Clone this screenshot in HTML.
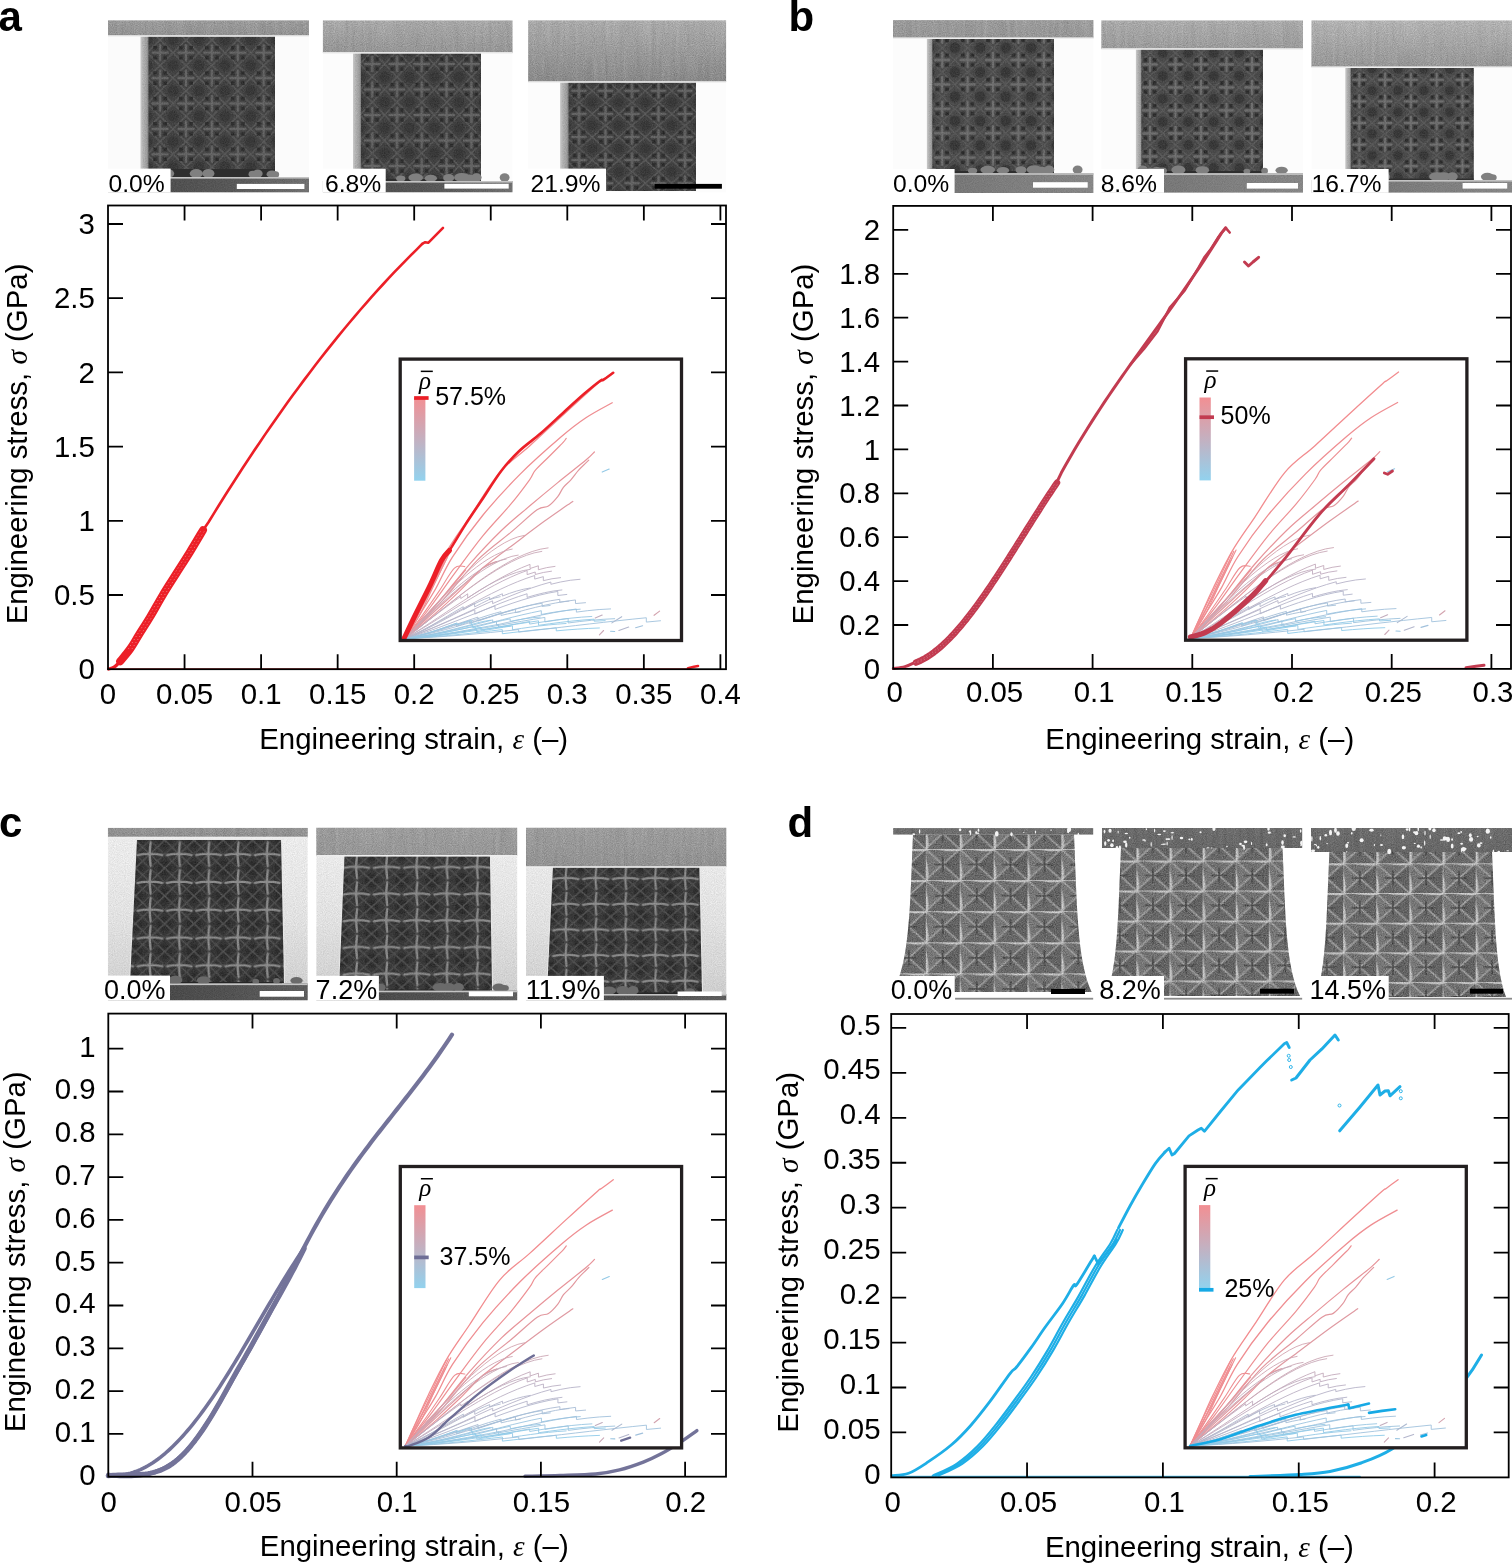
<!DOCTYPE html>
<html><head><meta charset="utf-8"><title>Figure</title>
<style>html,body{margin:0;padding:0;background:#fff;}svg{display:block;}</style>
</head><body>
<svg width="1512" height="1563" viewBox="0 0 1512 1563">
<defs>
<filter id="nz" x="0" y="0" width="100%" height="100%" color-interpolation-filters="sRGB">
 <feTurbulence type="fractalNoise" baseFrequency="0.9" numOctaves="2" seed="7" result="t"/>
 <feColorMatrix in="t" type="matrix" values="0.33 0.33 0.33 0 0  0.33 0.33 0.33 0 0  0.33 0.33 0.33 0 0  0 0 0 0 1" result="g0"/>
 <feComponentTransfer in="g0" result="g"><feFuncR type="linear" slope="2.6" intercept="-0.8"/><feFuncG type="linear" slope="2.6" intercept="-0.8"/><feFuncB type="linear" slope="2.6" intercept="-0.8"/></feComponentTransfer>
 <feComposite in="g" in2="SourceGraphic" operator="in"/>
</filter>
<filter id="nzs" x="0" y="0" width="100%" height="100%" color-interpolation-filters="sRGB">
 <feTurbulence type="fractalNoise" baseFrequency="0.25 0.02" numOctaves="3" seed="4" result="t"/>
 <feColorMatrix in="t" type="matrix" values="0.33 0.33 0.33 0 0  0.33 0.33 0.33 0 0  0.33 0.33 0.33 0 0  0 0 0 0 1" result="g"/>
 <feComposite in="g" in2="SourceGraphic" operator="in"/>
</filter>
<filter id="bl06" x="-2%" y="-2%" width="104%" height="104%"><feGaussianBlur stdDeviation="0.55"/></filter>
<filter id="bl1" x="-5%" y="-5%" width="110%" height="110%"><feGaussianBlur stdDeviation="1.1"/></filter>
<filter id="bl2" x="-10%" y="-10%" width="120%" height="120%"><feGaussianBlur stdDeviation="2"/></filter>
<linearGradient id="gsubA" x1="0" y1="0" x2="1" y2="0"><stop offset="0" stop-color="#454545"/><stop offset="0.6" stop-color="#555555"/><stop offset="1" stop-color="#707070"/></linearGradient>
<linearGradient id="gsubB" x1="0" y1="0" x2="1" y2="0"><stop offset="0" stop-color="#707070"/><stop offset="1" stop-color="#888888"/></linearGradient>
<linearGradient id="gsubC" x1="0" y1="0" x2="1" y2="0"><stop offset="0" stop-color="#3c3c3c"/><stop offset="1" stop-color="#5c5c5c"/></linearGradient>
<linearGradient id="gside" x1="0" y1="0" x2="1" y2="0"><stop offset="0" stop-color="#c8c8c8"/><stop offset="0.7" stop-color="#a0a0a0"/><stop offset="1" stop-color="#6a6a6a"/></linearGradient>
<linearGradient id="gpl_a1" x1="0" y1="0" x2="0" y2="1"><stop offset="0" stop-color="#a6a6a6"/><stop offset="1" stop-color="#9a9a9a"/></linearGradient><linearGradient id="gpl_a2" x1="0" y1="0" x2="0" y2="1"><stop offset="0" stop-color="#b8b8b8"/><stop offset="1" stop-color="#9e9e9e"/></linearGradient><linearGradient id="gpl_a3" x1="0" y1="0" x2="0" y2="1"><stop offset="0" stop-color="#bcbcbc"/><stop offset="1" stop-color="#8e8e8e"/></linearGradient><linearGradient id="gpl_b1" x1="0" y1="0" x2="0" y2="1"><stop offset="0" stop-color="#a8a8a8"/><stop offset="1" stop-color="#a0a0a0"/></linearGradient><linearGradient id="gpl_b2" x1="0" y1="0" x2="0" y2="1"><stop offset="0" stop-color="#bcbcbc"/><stop offset="1" stop-color="#a6a6a6"/></linearGradient><linearGradient id="gpl_b3" x1="0" y1="0" x2="0" y2="1"><stop offset="0" stop-color="#c6c6c6"/><stop offset="1" stop-color="#a0a0a0"/></linearGradient><linearGradient id="gpl_c1" x1="0" y1="0" x2="0" y2="1"><stop offset="0" stop-color="#9e9e9e"/><stop offset="1" stop-color="#969696"/></linearGradient><linearGradient id="gpl_c2" x1="0" y1="0" x2="0" y2="1"><stop offset="0" stop-color="#aaaaaa"/><stop offset="1" stop-color="#a0a0a0"/></linearGradient><linearGradient id="gpl_c3" x1="0" y1="0" x2="0" y2="1"><stop offset="0" stop-color="#a8a8a8"/><stop offset="1" stop-color="#9a9a9a"/></linearGradient><linearGradient id="gpl_d1" x1="0" y1="0" x2="0" y2="1"><stop offset="0" stop-color="#6c6c6c"/><stop offset="1" stop-color="#666666"/></linearGradient><linearGradient id="gpl_d2" x1="0" y1="0" x2="0" y2="1"><stop offset="0" stop-color="#686868"/><stop offset="1" stop-color="#606060"/></linearGradient><linearGradient id="gpl_d3" x1="0" y1="0" x2="0" y2="1"><stop offset="0" stop-color="#686868"/><stop offset="1" stop-color="#606060"/></linearGradient>
<linearGradient id="gbgc" x1="0" y1="0" x2="0" y2="1"><stop offset="0" stop-color="#fafafa"/><stop offset="0.5" stop-color="#eeeeee"/><stop offset="1" stop-color="#d6d6d6"/></linearGradient>
<linearGradient id="gplv" x1="0" y1="0" x2="0" y2="1"><stop offset="0" stop-color="#fff" stop-opacity="0.10"/><stop offset="1" stop-color="#000" stop-opacity="0.10"/></linearGradient>
<clipPath id="clip_a1"><rect x="108" y="20.2" width="201" height="172.4"/></clipPath><pattern id="pat_a1" patternUnits="userSpaceOnUse" x="147.15" y="40" width="25.9" height="25.4"><rect width="25.9" height="25.4" fill="#3d3d3d"/><circle cx="0" cy="0" r="5.59" fill="#333333"/><circle cx="25.9" cy="0" r="5.59" fill="#333333"/><circle cx="0" cy="25.4" r="5.59" fill="#333333"/><circle cx="25.9" cy="25.4" r="5.59" fill="#333333"/><path d="M12.95 0L25.9 12.7L12.95 25.4L0 12.7Z" stroke="#565656" stroke-width="1.5" fill="none"/><rect x="4.31" y="11.5" width="17.27" height="2.4" rx="1" fill="#626262"/><rect x="11.75" y="4.06" width="2.4" height="17.27" rx="1" fill="#626262"/><rect x="6.07" y="5.82" width="3.6" height="3.6" fill="#262626"/><rect x="6.07" y="15.98" width="3.6" height="3.6" fill="#262626"/><rect x="16.23" y="5.82" width="3.6" height="3.6" fill="#262626"/><rect x="16.23" y="15.98" width="3.6" height="3.6" fill="#262626"/></pattern><clipPath id="clip_a2"><rect x="322.7" y="20.3" width="190" height="172.2"/></clipPath><pattern id="pat_a2" patternUnits="userSpaceOnUse" x="359.8" y="51.25" width="24.8" height="25.5"><rect width="24.8" height="25.5" fill="#3b3b3b"/><circle cx="0" cy="0" r="5.46" fill="#333333"/><circle cx="24.8" cy="0" r="5.46" fill="#333333"/><circle cx="0" cy="25.5" r="5.46" fill="#333333"/><circle cx="24.8" cy="25.5" r="5.46" fill="#333333"/><path d="M12.4 0L24.8 12.75L12.4 25.5L0 12.75Z" stroke="#565656" stroke-width="1.5" fill="none"/><rect x="3.97" y="11.55" width="16.86" height="2.4" rx="1" fill="#626262"/><rect x="11.2" y="4.32" width="2.4" height="16.86" rx="1" fill="#626262"/><rect x="5.64" y="5.99" width="3.6" height="3.6" fill="#262626"/><rect x="5.64" y="15.91" width="3.6" height="3.6" fill="#262626"/><rect x="15.56" y="5.99" width="3.6" height="3.6" fill="#262626"/><rect x="15.56" y="15.91" width="3.6" height="3.6" fill="#262626"/></pattern><clipPath id="clip_a3"><rect x="528.1" y="20.2" width="198.2" height="172.4"/></clipPath><pattern id="pat_a3" patternUnits="userSpaceOnUse" x="565.75" y="79.25" width="26.5" height="23.1"><rect width="26.5" height="23.1" fill="#3a3a3a"/><circle cx="0" cy="0" r="5.08" fill="#333333"/><circle cx="26.5" cy="0" r="5.08" fill="#333333"/><circle cx="0" cy="23.1" r="5.08" fill="#333333"/><circle cx="26.5" cy="23.1" r="5.08" fill="#333333"/><path d="M13.25 0L26.5 11.55L13.25 23.1L0 11.55Z" stroke="#565656" stroke-width="1.5" fill="none"/><rect x="5.4" y="10.35" width="15.71" height="2.4" rx="1" fill="#626262"/><rect x="12.05" y="3.7" width="2.4" height="15.71" rx="1" fill="#626262"/><rect x="6.83" y="5.13" width="3.6" height="3.6" fill="#262626"/><rect x="6.83" y="14.37" width="3.6" height="3.6" fill="#262626"/><rect x="16.07" y="5.13" width="3.6" height="3.6" fill="#262626"/><rect x="16.07" y="14.37" width="3.6" height="3.6" fill="#262626"/></pattern><clipPath id="clip_b1"><rect x="893" y="20.1" width="200.6" height="172.9"/></clipPath><pattern id="pat_b1" patternUnits="userSpaceOnUse" x="929.5" y="47.8" width="25.4" height="24.4"><rect width="25.4" height="24.4" fill="#454545"/><circle cx="0" cy="0" r="5.37" fill="#333333"/><circle cx="25.4" cy="0" r="5.37" fill="#333333"/><circle cx="0" cy="24.4" r="5.37" fill="#333333"/><circle cx="25.4" cy="24.4" r="5.37" fill="#333333"/><path d="M12.7 0L25.4 12.2L12.7 24.4L0 12.2Z" stroke="#565656" stroke-width="1.5" fill="none"/><rect x="4.4" y="11" width="16.59" height="2.4" rx="1" fill="#6c6c6c"/><rect x="11.5" y="3.9" width="2.4" height="16.59" rx="1" fill="#6c6c6c"/><rect x="6.02" y="5.52" width="3.6" height="3.6" fill="#262626"/><rect x="6.02" y="15.28" width="3.6" height="3.6" fill="#262626"/><rect x="15.78" y="5.52" width="3.6" height="3.6" fill="#262626"/><rect x="15.78" y="15.28" width="3.6" height="3.6" fill="#262626"/></pattern><clipPath id="clip_b2"><rect x="1101.2" y="20.3" width="201.8" height="172.5"/></clipPath><pattern id="pat_b2" patternUnits="userSpaceOnUse" x="1137.25" y="52.9" width="25.5" height="23"><rect width="25.5" height="23" fill="#444444"/><circle cx="0" cy="0" r="5.06" fill="#333333"/><circle cx="25.5" cy="0" r="5.06" fill="#333333"/><circle cx="0" cy="23" r="5.06" fill="#333333"/><circle cx="25.5" cy="23" r="5.06" fill="#333333"/><path d="M12.75 0L25.5 11.5L12.75 23L0 11.5Z" stroke="#565656" stroke-width="1.5" fill="none"/><rect x="4.93" y="10.3" width="15.64" height="2.4" rx="1" fill="#6c6c6c"/><rect x="11.55" y="3.68" width="2.4" height="15.64" rx="1" fill="#6c6c6c"/><rect x="6.35" y="5.1" width="3.6" height="3.6" fill="#262626"/><rect x="6.35" y="14.3" width="3.6" height="3.6" fill="#262626"/><rect x="15.55" y="5.1" width="3.6" height="3.6" fill="#262626"/><rect x="15.55" y="14.3" width="3.6" height="3.6" fill="#262626"/></pattern><clipPath id="clip_b3"><rect x="1311.3" y="20.3" width="200.7" height="172.5"/></clipPath><pattern id="pat_b3" patternUnits="userSpaceOnUse" x="1346.4" y="69" width="25.8" height="21.6"><rect width="25.8" height="21.6" fill="#444444"/><circle cx="0" cy="0" r="4.75" fill="#333333"/><circle cx="25.8" cy="0" r="4.75" fill="#333333"/><circle cx="0" cy="21.6" r="4.75" fill="#333333"/><circle cx="25.8" cy="21.6" r="4.75" fill="#333333"/><path d="M12.9 0L25.8 10.8L12.9 21.6L0 10.8Z" stroke="#565656" stroke-width="1.5" fill="none"/><rect x="5.56" y="9.6" width="14.69" height="2.4" rx="1" fill="#6c6c6c"/><rect x="11.7" y="3.46" width="2.4" height="14.69" rx="1" fill="#6c6c6c"/><rect x="6.78" y="4.68" width="3.6" height="3.6" fill="#262626"/><rect x="6.78" y="13.32" width="3.6" height="3.6" fill="#262626"/><rect x="15.42" y="4.68" width="3.6" height="3.6" fill="#262626"/><rect x="15.42" y="13.32" width="3.6" height="3.6" fill="#262626"/></pattern><clipPath id="clip_c1"><rect x="107.8" y="827.8" width="200" height="172.6"/></clipPath><pattern id="pat_c1" patternUnits="userSpaceOnUse" x="135.35" y="840.3" width="29.3" height="27.8"><rect width="29.3" height="27.8" fill="#2f2f2f"/><circle cx="0" cy="0" r="7.23" fill="#262626"/><circle cx="29.3" cy="0" r="7.23" fill="#262626"/><circle cx="0" cy="27.8" r="7.23" fill="#262626"/><circle cx="29.3" cy="27.8" r="7.23" fill="#262626"/><path d="M0 0L29.3 27.8M29.3 0L0 27.8" stroke="#4d4d4d" stroke-width="1.6"/><path d="M0 13.9L14.65 0L29.3 13.9L14.65 27.8Z" stroke="#474747" stroke-width="1.2" fill="none"/><path d="M2.34 14.7Q14.65 12.3 26.96 14.7M15.25 2.22Q13.45 13.9 15.25 25.58" stroke="#8c8c8c" stroke-width="2.2" stroke-linecap="round" fill="none"/></pattern><clipPath id="clip_c2"><rect x="316.2" y="827.6" width="201.2" height="172.8"/></clipPath><pattern id="pat_c2" patternUnits="userSpaceOnUse" x="341.3" y="853.65" width="30.2" height="26.7"><rect width="30.2" height="26.7" fill="#313131"/><circle cx="0" cy="0" r="6.94" fill="#262626"/><circle cx="30.2" cy="0" r="6.94" fill="#262626"/><circle cx="0" cy="26.7" r="6.94" fill="#262626"/><circle cx="30.2" cy="26.7" r="6.94" fill="#262626"/><path d="M0 0L30.2 26.7M30.2 0L0 26.7" stroke="#4d4d4d" stroke-width="1.6"/><path d="M0 13.35L15.1 0L30.2 13.35L15.1 26.7Z" stroke="#474747" stroke-width="1.2" fill="none"/><path d="M2.42 14.15Q15.1 11.75 27.78 14.15M15.7 2.14Q13.9 13.35 15.7 24.56" stroke="#8c8c8c" stroke-width="2.2" stroke-linecap="round" fill="none"/></pattern><clipPath id="clip_c3"><rect x="525.9" y="827.6" width="200.6" height="172.8"/></clipPath><pattern id="pat_c3" patternUnits="userSpaceOnUse" x="550.88" y="865.38" width="29.85" height="25.65"><rect width="29.85" height="25.65" fill="#313131"/><circle cx="0" cy="0" r="6.67" fill="#262626"/><circle cx="29.85" cy="0" r="6.67" fill="#262626"/><circle cx="0" cy="25.65" r="6.67" fill="#262626"/><circle cx="29.85" cy="25.65" r="6.67" fill="#262626"/><path d="M0 0L29.85 25.65M29.85 0L0 25.65" stroke="#4d4d4d" stroke-width="1.6"/><path d="M0 12.82L14.93 0L29.85 12.82L14.93 25.65Z" stroke="#474747" stroke-width="1.2" fill="none"/><path d="M2.39 13.62Q14.93 11.22 27.46 13.62M15.53 2.05Q13.73 12.82 15.53 23.6" stroke="#8c8c8c" stroke-width="2.2" stroke-linecap="round" fill="none"/></pattern><clipPath id="clip_d1"><rect x="893.1" y="828.1" width="200.3" height="172.3"/></clipPath><pattern id="pat_d1" patternUnits="userSpaceOnUse" x="925.8" y="849" width="33.9" height="31.1"><rect width="33.9" height="31.1" fill="#6c6c6c"/><path d="M0 0L16.95 15.55L0 31.1Z" fill="#767676"/><path d="M0 0L16.95 15.55L33.9 0Z" fill="#6e6e6e"/><path d="M33.9 0L16.95 15.55L33.9 31.1Z" fill="#5c5c5c"/><path d="M0 31.1L16.95 15.55L33.9 31.1Z" fill="#646464"/><path d="M0 0L33.9 31.1M33.9 0L0 31.1" stroke="#a4a4a4" stroke-width="1.7"/><path d="M8.47 15.55H25.42M16.95 7.78V23.33" stroke="#3e3e3e" stroke-width="1.6"/><path d="M-1 0C11.86 -3.2 22.04 3.2 34.9 0M0 -1C-5 9.33 5 21.77 0 32.1" stroke="#d6d6d6" stroke-width="3.0" fill="none"/></pattern><clipPath id="clip_d2"><rect x="1101.9" y="828" width="200.5" height="172.4"/></clipPath><pattern id="pat_d2" patternUnits="userSpaceOnUse" x="1136.4" y="860.5" width="33.1" height="30"><rect width="33.1" height="30" fill="#6a6a6a"/><path d="M0 0L16.55 15L0 30Z" fill="#767676"/><path d="M0 0L16.55 15L33.1 0Z" fill="#6e6e6e"/><path d="M33.1 0L16.55 15L33.1 30Z" fill="#5c5c5c"/><path d="M0 30L16.55 15L33.1 30Z" fill="#646464"/><path d="M0 0L33.1 30M33.1 0L0 30" stroke="#a4a4a4" stroke-width="1.7"/><path d="M8.28 15H24.83M16.55 7.5V22.5" stroke="#3e3e3e" stroke-width="1.6"/><path d="M-1 0C11.58 -3.2 21.52 3.2 34.1 0M0 -1C-5 9 5 21 0 31" stroke="#d6d6d6" stroke-width="3.0" fill="none"/></pattern><clipPath id="clip_d3"><rect x="1311" y="828" width="201" height="172.4"/></clipPath><pattern id="pat_d3" patternUnits="userSpaceOnUse" x="1343.2" y="863.3" width="33.1" height="29.7"><rect width="33.1" height="29.7" fill="#6a6a6a"/><path d="M0 0L16.55 14.85L0 29.7Z" fill="#767676"/><path d="M0 0L16.55 14.85L33.1 0Z" fill="#6e6e6e"/><path d="M33.1 0L16.55 14.85L33.1 29.7Z" fill="#5c5c5c"/><path d="M0 29.7L16.55 14.85L33.1 29.7Z" fill="#646464"/><path d="M0 0L33.1 29.7M33.1 0L0 29.7" stroke="#a4a4a4" stroke-width="1.7"/><path d="M8.28 14.85H24.83M16.55 7.42V22.27" stroke="#3e3e3e" stroke-width="1.6"/><path d="M-1 0C11.58 -3.2 21.52 3.2 34.1 0M0 -1C-5 8.91 5 20.79 0 30.7" stroke="#d6d6d6" stroke-width="3.0" fill="none"/></pattern><linearGradient id="cb_a" x1="0" y1="0" x2="0" y2="1"><stop offset="0" stop-color="#f28f93"/><stop offset="0.5" stop-color="#c4b0c0"/><stop offset="1" stop-color="#92d2ee"/></linearGradient><linearGradient id="cb_b" x1="0" y1="0" x2="0" y2="1"><stop offset="0" stop-color="#f28f93"/><stop offset="0.5" stop-color="#c4b0c0"/><stop offset="1" stop-color="#92d2ee"/></linearGradient><linearGradient id="cb_c" x1="0" y1="0" x2="0" y2="1"><stop offset="0" stop-color="#f28f93"/><stop offset="0.5" stop-color="#c4b0c0"/><stop offset="1" stop-color="#92d2ee"/></linearGradient><linearGradient id="cb_d" x1="0" y1="0" x2="0" y2="1"><stop offset="0" stop-color="#f28f93"/><stop offset="0.5" stop-color="#c4b0c0"/><stop offset="1" stop-color="#92d2ee"/></linearGradient></defs>
<rect width="1512" height="1563" fill="#fff"/>
<text x="-1.5" y="31" font-family="'Liberation Sans', Arial, Helvetica, sans-serif" font-weight="bold" font-size="42">a</text>
<text x="788.5" y="30.6" font-family="'Liberation Sans', Arial, Helvetica, sans-serif" font-weight="bold" font-size="42">b</text>
<text x="-1" y="837" font-family="'Liberation Sans', Arial, Helvetica, sans-serif" font-weight="bold" font-size="42">c</text>
<text x="787.5" y="837" font-family="'Liberation Sans', Arial, Helvetica, sans-serif" font-weight="bold" font-size="42">d</text>
<g clip-path="url(#clip_a1)"><rect x="108" y="20.2" width="201" height="172.4" fill="#fbfbfb"/><rect x="140.5" y="36" width="9" height="134" fill="url(#gside)" filter="url(#bl06)"/><rect x="148.5" y="36" width="126.5" height="134" fill="url(#pat_a1)" filter="url(#bl06)"/><rect x="142" y="36" width="133" height="134" filter="url(#nz)" opacity="0.09"/><rect x="148.5" y="169" width="126.5" height="8" fill="#2e2e2e"/><g fill="#808080" filter="url(#bl06)"><ellipse cx="168.56" cy="173.51" rx="5.62" ry="4.36"/><ellipse cx="272.04" cy="174.13" rx="5.49" ry="3.59"/><ellipse cx="257.62" cy="173.63" rx="5.02" ry="4.22"/><ellipse cx="156.8" cy="174.56" rx="4.83" ry="3.05"/><ellipse cx="275.57" cy="174.4" rx="3.57" ry="3.25"/><ellipse cx="208.37" cy="173.45" rx="6.06" ry="4.44"/><ellipse cx="157.39" cy="173.63" rx="4.77" ry="4.21"/><ellipse cx="196.29" cy="173.49" rx="6.61" ry="4.39"/><ellipse cx="252.93" cy="174.25" rx="4.4" ry="3.44"/></g><rect x="108" y="20.2" width="201" height="15.8" fill="url(#gpl_a1)"/><rect x="108" y="20.2" width="201" height="15.8" filter="url(#nz)" opacity="0.16"/><rect x="108" y="20.2" width="201" height="15.8" filter="url(#nzs)" opacity="0.12"/><rect x="108" y="35.2" width="201" height="1.6" fill="#eeeeee"/><rect x="108" y="177" width="201" height="15.6" fill="url(#gsubA)"/><rect x="108" y="177" width="201" height="15.6" filter="url(#nz)" opacity="0.08"/><rect x="108" y="177" width="201" height="1.6" fill="#c4c4c4"/><rect x="236.8" y="183.9" width="67.6" height="5.1" fill="#fff"/></g><rect x="108" y="168.6" width="62.6" height="24" fill="#fff"/><text x="108.54" y="191.9" font-family="'Liberation Sans', Arial, Helvetica, sans-serif" font-size="24.7">0.0%</text>
<g clip-path="url(#clip_a2)"><rect x="322.7" y="20.3" width="190" height="172.2" fill="#fcfcfc"/><rect x="353" y="52.9" width="9" height="127.1" fill="url(#gside)" filter="url(#bl06)"/><rect x="361" y="52.9" width="120" height="127.1" fill="url(#pat_a2)" filter="url(#bl06)"/><rect x="354.5" y="52.9" width="126.5" height="127.1" filter="url(#nz)" opacity="0.09"/><rect x="361" y="179" width="120" height="2" fill="#2e2e2e"/><g fill="#808080" filter="url(#bl06)"><ellipse cx="448.64" cy="177.88" rx="5.54" ry="3.9"/><ellipse cx="469.21" cy="178.1" rx="6.1" ry="3.62"/><ellipse cx="476.46" cy="177.59" rx="5.15" ry="4.27"/><ellipse cx="415.73" cy="177.66" rx="7.33" ry="4.18"/><ellipse cx="400.74" cy="178.56" rx="4.67" ry="3.05"/><ellipse cx="430.78" cy="178.19" rx="6.23" ry="3.51"/><ellipse cx="504.63" cy="177.6" rx="4.93" ry="4.25"/><ellipse cx="461.77" cy="177.42" rx="7.72" ry="4.48"/><ellipse cx="361.86" cy="178.78" rx="4.74" ry="2.78"/></g><rect x="322.7" y="20.3" width="190" height="32.6" fill="url(#gpl_a2)"/><rect x="322.7" y="20.3" width="190" height="32.6" filter="url(#nz)" opacity="0.16"/><rect x="322.7" y="20.3" width="190" height="32.6" filter="url(#nzs)" opacity="0.12"/><rect x="322.7" y="52.1" width="190" height="1.6" fill="#eeeeee"/><rect x="322.7" y="181" width="190" height="11.5" fill="url(#gsubA)"/><rect x="322.7" y="181" width="190" height="11.5" filter="url(#nz)" opacity="0.08"/><rect x="322.7" y="181" width="190" height="1.6" fill="#c4c4c4"/><rect x="444.4" y="183.8" width="64.3" height="4.8" fill="#fff"/></g><rect x="322.7" y="168.7" width="63" height="23.8" fill="#fff"/><text x="324.96" y="191.9" font-family="'Liberation Sans', Arial, Helvetica, sans-serif" font-size="24.7">6.8%</text>
<g clip-path="url(#clip_a3)"><rect x="528.1" y="20.2" width="198.2" height="172.4" fill="#fcfcfc"/><rect x="560.1" y="82" width="9.5" height="109" fill="url(#gside)" filter="url(#bl06)"/><rect x="568.6" y="82" width="127.4" height="109" fill="url(#pat_a3)" filter="url(#bl06)"/><rect x="561.6" y="82" width="134.4" height="109" filter="url(#nz)" opacity="0.09"/><rect x="528.1" y="20.2" width="198.2" height="61.8" fill="url(#gpl_a3)"/><rect x="528.1" y="20.2" width="198.2" height="61.8" filter="url(#nz)" opacity="0.16"/><rect x="528.1" y="20.2" width="198.2" height="61.8" filter="url(#nzs)" opacity="0.12"/><rect x="528.1" y="81.2" width="198.2" height="1.6" fill="#eeeeee"/><rect x="654.7" y="183.9" width="67.2" height="4.8" fill="#000"/></g><rect x="528.1" y="168.6" width="77.9" height="24" fill="#fff"/><text x="530.47" y="191.9" font-family="'Liberation Sans', Arial, Helvetica, sans-serif" font-size="24.7">21.9%</text>
<g clip-path="url(#clip_b1)"><rect x="893" y="20.1" width="200.6" height="172.9" fill="#fcfcfc"/><rect x="926.9" y="38.2" width="6.5" height="133.8" fill="url(#gside)" filter="url(#bl06)"/><rect x="932.4" y="38.2" width="121.6" height="133.8" fill="url(#pat_b1)" filter="url(#bl06)"/><rect x="928.4" y="38.2" width="125.6" height="133.8" filter="url(#nz)" opacity="0.09"/><rect x="932.4" y="171" width="121.6" height="2.2" fill="#2e2e2e"/><g fill="#808080" filter="url(#bl06)"><ellipse cx="1021.01" cy="170.08" rx="5.54" ry="3.9"/><ellipse cx="1041.81" cy="170.3" rx="6.1" ry="3.62"/><ellipse cx="1049.14" cy="169.79" rx="5.15" ry="4.27"/><ellipse cx="987.73" cy="169.86" rx="7.33" ry="4.18"/><ellipse cx="972.57" cy="170.76" rx="4.67" ry="3.05"/><ellipse cx="1002.95" cy="170.39" rx="6.23" ry="3.51"/><ellipse cx="1077.62" cy="169.8" rx="4.93" ry="4.25"/><ellipse cx="1034.28" cy="169.62" rx="7.72" ry="4.48"/><ellipse cx="933.27" cy="170.98" rx="4.74" ry="2.78"/></g><rect x="893" y="20.1" width="200.6" height="18.1" fill="url(#gpl_b1)"/><rect x="893" y="20.1" width="200.6" height="18.1" filter="url(#nz)" opacity="0.16"/><rect x="893" y="20.1" width="200.6" height="18.1" filter="url(#nzs)" opacity="0.12"/><rect x="893" y="37.4" width="200.6" height="1.6" fill="#eeeeee"/><rect x="893" y="173.2" width="200.6" height="19.8" fill="url(#gsubB)"/><rect x="893" y="173.2" width="200.6" height="19.8" filter="url(#nz)" opacity="0.08"/><rect x="893" y="173.2" width="200.6" height="1.6" fill="#c4c4c4"/><rect x="1033" y="182.2" width="54.7" height="5.5" fill="#fff"/></g><rect x="892.94" y="169" width="61.66" height="24" fill="#fff"/><text x="892.94" y="191.9" font-family="'Liberation Sans', Arial, Helvetica, sans-serif" font-size="24.7">0.0%</text>
<g clip-path="url(#clip_b2)"><rect x="1101.2" y="20.3" width="201.8" height="172.5" fill="#fcfcfc"/><rect x="1135.9" y="49" width="6.5" height="123" fill="url(#gside)" filter="url(#bl06)"/><rect x="1141.4" y="49" width="121.6" height="123" fill="url(#pat_b2)" filter="url(#bl06)"/><rect x="1137.4" y="49" width="125.6" height="123" filter="url(#nz)" opacity="0.09"/><rect x="1141.4" y="171" width="121.6" height="2.3" fill="#2e2e2e"/><g fill="#808080" filter="url(#bl06)"><ellipse cx="1202.37" cy="170.13" rx="6.71" ry="3.96"/><ellipse cx="1246.89" cy="171.24" rx="3.33" ry="2.58"/><ellipse cx="1162.13" cy="170.73" rx="4.81" ry="3.21"/><ellipse cx="1156.8" cy="170.48" rx="5.78" ry="3.53"/><ellipse cx="1178.36" cy="169.83" rx="7.05" ry="4.34"/><ellipse cx="1281.63" cy="170.37" rx="6.15" ry="3.66"/><ellipse cx="1150.62" cy="170.82" rx="4.02" ry="3.1"/><ellipse cx="1264.59" cy="170.88" rx="3.39" ry="3.02"/><ellipse cx="1142.8" cy="169.82" rx="5.27" ry="4.35"/></g><rect x="1101.2" y="20.3" width="201.8" height="28.7" fill="url(#gpl_b2)"/><rect x="1101.2" y="20.3" width="201.8" height="28.7" filter="url(#nz)" opacity="0.16"/><rect x="1101.2" y="20.3" width="201.8" height="28.7" filter="url(#nzs)" opacity="0.12"/><rect x="1101.2" y="48.2" width="201.8" height="1.6" fill="#eeeeee"/><rect x="1101.2" y="173.3" width="201.8" height="19.5" fill="url(#gsubB)"/><rect x="1101.2" y="173.3" width="201.8" height="19.5" filter="url(#nz)" opacity="0.08"/><rect x="1101.2" y="173.3" width="201.8" height="1.6" fill="#c4c4c4"/><rect x="1246.8" y="183" width="51.2" height="5.6" fill="#fff"/></g><rect x="1100.64" y="169" width="63.36" height="23.8" fill="#fff"/><text x="1100.64" y="191.9" font-family="'Liberation Sans', Arial, Helvetica, sans-serif" font-size="24.7">8.6%</text>
<g clip-path="url(#clip_b3)"><rect x="1311.3" y="20.3" width="200.7" height="172.5" fill="#fcfcfc"/><rect x="1345.3" y="67.2" width="6.5" height="112.3" fill="url(#gside)" filter="url(#bl06)"/><rect x="1350.8" y="67.2" width="123" height="112.3" fill="url(#pat_b3)" filter="url(#bl06)"/><rect x="1346.8" y="67.2" width="127" height="112.3" filter="url(#nz)" opacity="0.09"/><rect x="1350.8" y="178.5" width="123" height="1.5" fill="#2e2e2e"/><g fill="#808080" filter="url(#bl06)"><ellipse cx="1492.24" cy="177.42" rx="4.45" ry="3.23"/><ellipse cx="1452.35" cy="176.57" rx="5.39" ry="4.29"/><ellipse cx="1487.36" cy="176.8" rx="6.44" ry="4"/><ellipse cx="1385.02" cy="176.82" rx="4.91" ry="3.98"/><ellipse cx="1363.43" cy="177.32" rx="4.21" ry="3.35"/><ellipse cx="1385.17" cy="177.01" rx="4.6" ry="3.74"/><ellipse cx="1443.79" cy="176.57" rx="6.98" ry="4.29"/><ellipse cx="1443.12" cy="177.75" rx="3.61" ry="2.81"/><ellipse cx="1436.7" cy="176.55" rx="7.65" ry="4.31"/></g><rect x="1311.3" y="20.3" width="200.7" height="46.9" fill="url(#gpl_b3)"/><rect x="1311.3" y="20.3" width="200.7" height="46.9" filter="url(#nz)" opacity="0.16"/><rect x="1311.3" y="20.3" width="200.7" height="46.9" filter="url(#nzs)" opacity="0.12"/><rect x="1311.3" y="66.4" width="200.7" height="1.6" fill="#eeeeee"/><rect x="1311.3" y="180" width="200.7" height="12.8" fill="url(#gsubB)"/><rect x="1311.3" y="180" width="200.7" height="12.8" filter="url(#nz)" opacity="0.08"/><rect x="1311.3" y="180" width="200.7" height="1.6" fill="#c4c4c4"/><rect x="1462.6" y="183" width="44.6" height="5.6" fill="#fff"/></g><rect x="1311.3" y="169" width="77.3" height="23.8" fill="#fff"/><text x="1311.42" y="191.9" font-family="'Liberation Sans', Arial, Helvetica, sans-serif" font-size="24.7">16.7%</text>
<g clip-path="url(#clip_c1)"><rect x="107.8" y="827.8" width="200" height="172.6" fill="url(#gbgc)"/><rect x="107.8" y="827.8" width="200" height="172.6" filter="url(#nz)" opacity="0.10"/><path d="M137 840L281 840L284 983L130 983Z" fill="#d0d0d0" stroke="#e8e8e8" stroke-width="2" filter="url(#bl06)"/><path d="M137 840L281 840L284 983L130 983Z" fill="url(#pat_c1)" filter="url(#bl06)"/><path d="M137 840L281 840L284 983L130 983Z" filter="url(#nz)" opacity="0.09"/><rect x="132" y="982" width="150" height="1.5" fill="#262626"/><g fill="#6a6a6a" filter="url(#bl06)"><ellipse cx="203.54" cy="980.33" rx="6.71" ry="3.96"/><ellipse cx="255.76" cy="981.44" rx="3.33" ry="2.58"/><ellipse cx="156.32" cy="980.93" rx="4.81" ry="3.21"/><ellipse cx="150.07" cy="980.68" rx="5.78" ry="3.53"/><ellipse cx="175.37" cy="980.03" rx="7.05" ry="4.34"/><ellipse cx="296.53" cy="980.57" rx="6.15" ry="3.66"/><ellipse cx="142.82" cy="981.02" rx="4.02" ry="3.1"/><ellipse cx="276.53" cy="981.08" rx="3.39" ry="3.02"/><ellipse cx="133.65" cy="980.02" rx="5.27" ry="4.35"/></g><rect x="107.8" y="827.8" width="200" height="9.7" fill="url(#gpl_c1)"/><rect x="107.8" y="827.8" width="200" height="9.7" filter="url(#nz)" opacity="0.16"/><rect x="107.8" y="827.8" width="200" height="9.7" filter="url(#nzs)" opacity="0.12"/><rect x="107.8" y="836.7" width="200" height="1.6" fill="#eeeeee"/><rect x="107.8" y="983.5" width="200" height="16.9" fill="url(#gsubC)"/><rect x="107.8" y="983.5" width="200" height="16.9" filter="url(#nz)" opacity="0.08"/><rect x="107.8" y="983.5" width="200" height="1.6" fill="#c4c4c4"/><rect x="259.7" y="991" width="44.3" height="5.7" fill="#fff"/></g><rect x="104.05" y="975.6" width="65.95" height="24.8" fill="#fff"/><text x="104.05" y="999.4" font-family="'Liberation Sans', Arial, Helvetica, sans-serif" font-size="27.0">0.0%</text>
<g clip-path="url(#clip_c2)"><rect x="316.2" y="827.6" width="201.2" height="172.8" fill="url(#gbgc)"/><rect x="316.2" y="827.6" width="201.2" height="172.8" filter="url(#nz)" opacity="0.10"/><path d="M344.5 855.8L489.9 855.8L492 990.5L339 990.5Z" fill="#d0d0d0" stroke="#e8e8e8" stroke-width="2" filter="url(#bl06)"/><path d="M344.5 855.8L489.9 855.8L492 990.5L339 990.5Z" fill="url(#pat_c2)" filter="url(#bl06)"/><path d="M344.5 855.8L489.9 855.8L492 990.5L339 990.5Z" filter="url(#nz)" opacity="0.09"/><rect x="341" y="989.5" width="149" height="1.2" fill="#262626"/><g fill="#6a6a6a" filter="url(#bl06)"><ellipse cx="504.42" cy="988.12" rx="4.45" ry="3.23"/><ellipse cx="458.34" cy="987.27" rx="5.39" ry="4.29"/><ellipse cx="498.78" cy="987.5" rx="6.44" ry="4"/><ellipse cx="380.54" cy="987.52" rx="4.91" ry="3.98"/><ellipse cx="355.59" cy="988.02" rx="4.21" ry="3.35"/><ellipse cx="380.71" cy="987.71" rx="4.6" ry="3.74"/><ellipse cx="448.45" cy="987.27" rx="6.98" ry="4.29"/><ellipse cx="447.67" cy="988.45" rx="3.61" ry="2.81"/><ellipse cx="440.25" cy="987.25" rx="7.65" ry="4.31"/></g><rect x="316.2" y="827.6" width="201.2" height="28.2" fill="url(#gpl_c2)"/><rect x="316.2" y="827.6" width="201.2" height="28.2" filter="url(#nz)" opacity="0.16"/><rect x="316.2" y="827.6" width="201.2" height="28.2" filter="url(#nzs)" opacity="0.12"/><rect x="316.2" y="855" width="201.2" height="1.6" fill="#eeeeee"/><rect x="316.2" y="990.7" width="201.2" height="9.7" fill="url(#gsubC)"/><rect x="316.2" y="990.7" width="201.2" height="9.7" filter="url(#nz)" opacity="0.08"/><rect x="316.2" y="990.7" width="201.2" height="1.6" fill="#c4c4c4"/><rect x="468.8" y="991.5" width="44.2" height="4.8" fill="#fff"/></g><rect x="315.62" y="975.8" width="63.28" height="24.6" fill="#fff"/><text x="315.62" y="999.4" font-family="'Liberation Sans', Arial, Helvetica, sans-serif" font-size="27.0">7.2%</text>
<g clip-path="url(#clip_c3)"><rect x="525.9" y="827.6" width="200.6" height="172.8" fill="url(#gbgc)"/><rect x="525.9" y="827.6" width="200.6" height="172.8" filter="url(#nz)" opacity="0.10"/><path d="M553 867L699.3 867L702 993.5L547 993.5Z" fill="#d0d0d0" stroke="#e8e8e8" stroke-width="2" filter="url(#bl06)"/><path d="M553 867L699.3 867L702 993.5L547 993.5Z" fill="url(#pat_c3)" filter="url(#bl06)"/><path d="M553 867L699.3 867L702 993.5L547 993.5Z" filter="url(#nz)" opacity="0.09"/><rect x="549" y="992.5" width="151" height="1.5" fill="#262626"/><g fill="#6a6a6a" filter="url(#bl06)"><ellipse cx="604.71" cy="991.02" rx="5.06" ry="3.72"/><ellipse cx="609.04" cy="990.68" rx="7.06" ry="4.15"/><ellipse cx="578.6" cy="990.76" rx="6.7" ry="4.05"/><ellipse cx="622.85" cy="990.48" rx="6.51" ry="4.4"/><ellipse cx="562.57" cy="991.84" rx="4.76" ry="2.69"/><ellipse cx="630.98" cy="991.28" rx="5.48" ry="3.4"/><ellipse cx="689.88" cy="991.49" rx="5.21" ry="3.14"/><ellipse cx="583.42" cy="991.1" rx="5.01" ry="3.62"/><ellipse cx="633.1" cy="990.46" rx="5.36" ry="4.43"/></g><rect x="525.9" y="827.6" width="200.6" height="39.4" fill="url(#gpl_c3)"/><rect x="525.9" y="827.6" width="200.6" height="39.4" filter="url(#nz)" opacity="0.16"/><rect x="525.9" y="827.6" width="200.6" height="39.4" filter="url(#nzs)" opacity="0.12"/><rect x="525.9" y="866.2" width="200.6" height="1.6" fill="#eeeeee"/><rect x="525.9" y="994" width="200.6" height="6.4" fill="url(#gsubC)"/><rect x="525.9" y="994" width="200.6" height="6.4" filter="url(#nz)" opacity="0.08"/><rect x="525.9" y="994" width="200.6" height="1.6" fill="#c4c4c4"/><rect x="677.6" y="991.5" width="44.1" height="4.5" fill="#fff"/></g><rect x="525.85" y="975.9" width="78.05" height="24.5" fill="#fff"/><text x="525.85" y="999.4" font-family="'Liberation Sans', Arial, Helvetica, sans-serif" font-size="27.0">11.9%</text>
<g clip-path="url(#clip_d1)"><rect x="893.1" y="828.1" width="200.3" height="172.3" fill="#ffffff"/><path d="M913 834.5L1074 834.5C1077 905.38 1077 960.5 1091.6 992L893 992C910 960.5 910 905.38 913 834.5Z" fill="url(#pat_d1)" filter="url(#bl06)"/><path d="M913 834.5L1074 834.5C1077 905.38 1077 960.5 1091.6 992L893 992C910 960.5 910 905.38 913 834.5Z" filter="url(#nz)" opacity="0.22"/><rect x="893.1" y="828.1" width="200.3" height="6.4" fill="url(#gpl_d1)"/><rect x="893.1" y="828.1" width="200.3" height="6.4" filter="url(#nz)" opacity="0.16"/><rect x="893.1" y="828.1" width="200.3" height="6.4" filter="url(#nzs)" opacity="0.12"/><g fill="#f4f4f4"><ellipse cx="1011.49" cy="834.3" rx="1.21" ry="2.13"/><ellipse cx="913.78" cy="834.24" rx="1.3" ry="1.08"/><ellipse cx="1035.52" cy="832.07" rx="0.62" ry="1.52"/><ellipse cx="978.5" cy="830.13" rx="0.79" ry="1.63"/><ellipse cx="1068.15" cy="831.08" rx="1.08" ry="2.28"/><ellipse cx="969.74" cy="831.52" rx="1.02" ry="1.06"/><ellipse cx="978" cy="833.33" rx="1.35" ry="0.74"/><ellipse cx="1023.73" cy="832.46" rx="0.59" ry="0.52"/><ellipse cx="996.75" cy="833.75" rx="1.87" ry="2.79"/><ellipse cx="1078.34" cy="834.23" rx="0.77" ry="1.58"/><ellipse cx="960.09" cy="829.71" rx="1.23" ry="1.55"/><ellipse cx="1051.06" cy="830.1" rx="0.92" ry="0.57"/><ellipse cx="970.51" cy="832.73" rx="0.71" ry="2.43"/><ellipse cx="1069.15" cy="829.51" rx="1.98" ry="2.58"/><ellipse cx="919.6" cy="831.44" rx="0.69" ry="2.26"/><ellipse cx="976.16" cy="832.57" rx="0.91" ry="1.61"/></g><rect x="955.1" y="997.8" width="138.3" height="1.8" fill="#8a8a8a"/><rect x="1051" y="989" width="34" height="5" fill="#000"/></g><rect x="890.75" y="976" width="63.95" height="24.4" fill="#fff"/><text x="890.75" y="999.4" font-family="'Liberation Sans', Arial, Helvetica, sans-serif" font-size="27.0">0.0%</text>
<g clip-path="url(#clip_d2)"><rect x="1101.9" y="828" width="200.5" height="172.4" fill="#ffffff"/><path d="M1121 848L1282.5 848C1285.5 914.6 1285.5 966.4 1300 996L1106 996C1118 966.4 1118 914.6 1121 848Z" fill="url(#pat_d2)" filter="url(#bl06)"/><path d="M1121 848L1282.5 848C1285.5 914.6 1285.5 966.4 1300 996L1106 996C1118 966.4 1118 914.6 1121 848Z" filter="url(#nz)" opacity="0.22"/><rect x="1101.9" y="828" width="200.5" height="20" fill="url(#gpl_d2)"/><rect x="1101.9" y="828" width="200.5" height="20" filter="url(#nz)" opacity="0.16"/><rect x="1101.9" y="828" width="200.5" height="20" filter="url(#nzs)" opacity="0.12"/><g fill="#f4f4f4"><ellipse cx="1151.19" cy="844.43" rx="0.6" ry="2.44"/><ellipse cx="1189.36" cy="839.39" rx="1.04" ry="0.78"/><ellipse cx="1110.04" cy="830.65" rx="1.59" ry="1.98"/><ellipse cx="1129.69" cy="837.8" rx="0.81" ry="0.97"/><ellipse cx="1105.25" cy="843.6" rx="1.15" ry="2.45"/><ellipse cx="1226.95" cy="846.54" rx="0.78" ry="0.78"/><ellipse cx="1294.22" cy="836.88" rx="1.82" ry="0.57"/><ellipse cx="1245.56" cy="841.86" rx="1.81" ry="1.31"/><ellipse cx="1104.5" cy="831.59" rx="0.9" ry="1.82"/><ellipse cx="1268.5" cy="829.1" rx="1.23" ry="1.73"/><ellipse cx="1145.07" cy="840.82" rx="1.07" ry="0.56"/><ellipse cx="1146.41" cy="829.28" rx="0.66" ry="1.05"/><ellipse cx="1164.57" cy="843.98" rx="1.86" ry="0.6"/><ellipse cx="1200.54" cy="832.16" rx="1.02" ry="0.98"/><ellipse cx="1126.32" cy="833.44" rx="1.75" ry="0.79"/><ellipse cx="1300.64" cy="830.97" rx="0.81" ry="1.77"/><ellipse cx="1208" cy="847.73" rx="1.45" ry="0.55"/><ellipse cx="1162.96" cy="844.16" rx="2.16" ry="0.5"/><ellipse cx="1240.48" cy="843.92" rx="1.33" ry="1.27"/><ellipse cx="1172.07" cy="837.52" rx="0.6" ry="2.57"/><ellipse cx="1143.85" cy="840.06" rx="1.79" ry="0.75"/><ellipse cx="1211.77" cy="847.9" rx="0.53" ry="0.71"/><ellipse cx="1113.1" cy="840.82" rx="0.9" ry="1.33"/><ellipse cx="1242.9" cy="845.75" rx="1.54" ry="0.92"/><ellipse cx="1159.24" cy="834.47" rx="1.95" ry="0.8"/><ellipse cx="1119.93" cy="847.75" rx="1.15" ry="2.26"/><ellipse cx="1108.54" cy="840.33" rx="1.31" ry="1.41"/><ellipse cx="1126.23" cy="844.88" rx="1.16" ry="2.58"/><ellipse cx="1124.94" cy="841.72" rx="1.75" ry="1.21"/><ellipse cx="1116.96" cy="847.13" rx="1.2" ry="1.24"/><ellipse cx="1266.69" cy="844.81" rx="0.97" ry="1.55"/><ellipse cx="1118.15" cy="832.08" rx="0.53" ry="1.31"/><ellipse cx="1251.56" cy="843.49" rx="0.55" ry="1.68"/><ellipse cx="1154.6" cy="830.57" rx="0.64" ry="1.84"/><ellipse cx="1284.74" cy="835.74" rx="1.27" ry="1.49"/><ellipse cx="1111.88" cy="845.26" rx="1.75" ry="2.08"/><ellipse cx="1269.33" cy="832.63" rx="1.64" ry="1.09"/><ellipse cx="1213.97" cy="828.99" rx="1.54" ry="1.91"/><ellipse cx="1191.78" cy="839.29" rx="0.9" ry="1.57"/><ellipse cx="1282.5" cy="842.6" rx="1.3" ry="2.38"/><ellipse cx="1244.04" cy="847.43" rx="0.95" ry="2.48"/><ellipse cx="1166.6" cy="839.05" rx="1.05" ry="0.89"/><ellipse cx="1167.14" cy="843.57" rx="0.59" ry="2.14"/><ellipse cx="1168.63" cy="839.03" rx="1.86" ry="0.86"/><ellipse cx="1301.7" cy="843.1" rx="1.62" ry="2.41"/><ellipse cx="1282.85" cy="847.08" rx="2.01" ry="1.47"/><ellipse cx="1164.37" cy="831.13" rx="1.42" ry="0.79"/><ellipse cx="1301.06" cy="845.61" rx="0.91" ry="0.66"/><ellipse cx="1181.48" cy="837.99" rx="1.74" ry="1.33"/><ellipse cx="1172.33" cy="832.75" rx="1.8" ry="0.63"/></g><rect x="1163.9" y="997.8" width="138.5" height="1.8" fill="#8a8a8a"/><rect x="1260" y="988.7" width="34" height="5" fill="#000"/></g><rect x="1099.34" y="976" width="64.66" height="24.4" fill="#fff"/><text x="1099.34" y="999.4" font-family="'Liberation Sans', Arial, Helvetica, sans-serif" font-size="27.0">8.2%</text>
<g clip-path="url(#clip_d3)"><rect x="1311" y="828" width="201" height="172.4" fill="#ffffff"/><path d="M1329.4 852L1492 852C1495 917.25 1495 968 1506 997L1315.6 997C1326.4 968 1326.4 917.25 1329.4 852Z" fill="url(#pat_d3)" filter="url(#bl06)"/><path d="M1329.4 852L1492 852C1495 917.25 1495 968 1506 997L1315.6 997C1326.4 968 1326.4 917.25 1329.4 852Z" filter="url(#nz)" opacity="0.22"/><rect x="1311" y="828" width="201" height="24" fill="url(#gpl_d3)"/><rect x="1311" y="828" width="201" height="24" filter="url(#nz)" opacity="0.16"/><rect x="1311" y="828" width="201" height="24" filter="url(#nzs)" opacity="0.12"/><g fill="#f4f4f4"><ellipse cx="1416.87" cy="832.21" rx="0.98" ry="0.98"/><ellipse cx="1327.07" cy="843.46" rx="0.68" ry="0.81"/><ellipse cx="1414.74" cy="843.42" rx="0.99" ry="0.62"/><ellipse cx="1424.68" cy="842.89" rx="0.64" ry="2.75"/><ellipse cx="1380.77" cy="835.15" rx="0.61" ry="0.64"/><ellipse cx="1346.76" cy="845.76" rx="1.47" ry="2.28"/><ellipse cx="1389.24" cy="851.49" rx="1.92" ry="2.66"/><ellipse cx="1463.59" cy="849.35" rx="2.12" ry="2.32"/><ellipse cx="1407.04" cy="829.57" rx="1.23" ry="1.25"/><ellipse cx="1477.67" cy="836.44" rx="0.94" ry="0.75"/><ellipse cx="1430.19" cy="836.74" rx="0.59" ry="2.33"/><ellipse cx="1414.46" cy="832.35" rx="1.45" ry="1.13"/><ellipse cx="1315.19" cy="844.61" rx="1.44" ry="0.54"/><ellipse cx="1351.78" cy="833.28" rx="0.78" ry="1.22"/><ellipse cx="1313.07" cy="850.86" rx="2.08" ry="1.36"/><ellipse cx="1316.46" cy="845.59" rx="0.59" ry="0.95"/><ellipse cx="1346.79" cy="851.67" rx="0.54" ry="0.75"/><ellipse cx="1444.39" cy="838.5" rx="1.59" ry="2.24"/><ellipse cx="1429.89" cy="828.2" rx="1.48" ry="2.39"/><ellipse cx="1452.18" cy="846.04" rx="1.39" ry="2.54"/><ellipse cx="1498.74" cy="851.4" rx="1.37" ry="0.69"/><ellipse cx="1507.69" cy="850.76" rx="1.41" ry="0.57"/><ellipse cx="1448.11" cy="839.38" rx="1.96" ry="2.53"/><ellipse cx="1433.97" cy="830.25" rx="1.71" ry="1.99"/><ellipse cx="1458.87" cy="833.19" rx="1.5" ry="0.84"/><ellipse cx="1421.15" cy="847.43" rx="0.79" ry="1.06"/><ellipse cx="1487.81" cy="831.18" rx="2.14" ry="2.64"/><ellipse cx="1425.01" cy="833.02" rx="0.63" ry="2.53"/><ellipse cx="1361.63" cy="840.23" rx="2" ry="2.02"/><ellipse cx="1418.26" cy="828.48" rx="0.77" ry="2.68"/><ellipse cx="1335.49" cy="830.23" rx="1.37" ry="2.53"/><ellipse cx="1409.45" cy="829.15" rx="0.84" ry="2.24"/><ellipse cx="1374.41" cy="844.97" rx="0.7" ry="0.99"/><ellipse cx="1452.1" cy="839.45" rx="0.91" ry="1.27"/><ellipse cx="1416.41" cy="833.23" rx="1.89" ry="1.97"/><ellipse cx="1478.83" cy="845.41" rx="1.88" ry="2.1"/><ellipse cx="1481.02" cy="843.02" rx="1.46" ry="0.88"/><ellipse cx="1471.06" cy="839.41" rx="2.11" ry="2.31"/><ellipse cx="1493.4" cy="851.23" rx="0.69" ry="1.85"/><ellipse cx="1445.87" cy="838.45" rx="2.15" ry="1.74"/><ellipse cx="1348.05" cy="842.74" rx="1.14" ry="0.68"/><ellipse cx="1318.25" cy="847.26" rx="1.15" ry="1.61"/><ellipse cx="1403.83" cy="847.71" rx="2.12" ry="1.67"/><ellipse cx="1470.3" cy="835.23" rx="1.48" ry="2.05"/><ellipse cx="1320.33" cy="838.36" rx="0.77" ry="2.25"/><ellipse cx="1441.85" cy="839.98" rx="2.05" ry="0.77"/><ellipse cx="1353.75" cy="828.44" rx="2.14" ry="2.58"/><ellipse cx="1381.5" cy="845.02" rx="1.47" ry="1.09"/><ellipse cx="1461.45" cy="850.02" rx="0.58" ry="2.23"/><ellipse cx="1402.93" cy="836.75" rx="1.26" ry="2.62"/><ellipse cx="1461.6" cy="843.79" rx="1.39" ry="1.05"/><ellipse cx="1311.84" cy="838.76" rx="0.7" ry="2.7"/><ellipse cx="1465.37" cy="848.76" rx="1.18" ry="1.04"/><ellipse cx="1418.47" cy="846.15" rx="1.56" ry="1.58"/><ellipse cx="1330.53" cy="832.51" rx="1.54" ry="2.79"/><ellipse cx="1490.71" cy="837.54" rx="0.75" ry="1.24"/><ellipse cx="1325.81" cy="835.31" rx="1.33" ry="1.19"/><ellipse cx="1461.15" cy="831.94" rx="0.89" ry="0.99"/><ellipse cx="1337.98" cy="833.48" rx="1.81" ry="2.28"/><ellipse cx="1371.52" cy="830.31" rx="2.18" ry="1.45"/></g><rect x="1373" y="997.8" width="139" height="1.8" fill="#8a8a8a"/><rect x="1470" y="988.7" width="33" height="5" fill="#000"/></g><rect x="1309.45" y="976" width="79.25" height="24.4" fill="#fff"/><text x="1309.45" y="999.4" font-family="'Liberation Sans', Arial, Helvetica, sans-serif" font-size="27.0">14.5%</text>
<path d="M108 668.6H690" fill="none" stroke="#ec1f27" stroke-width="1.4" stroke-linecap="round" stroke-linejoin="round" opacity="0.6"/><path d="M688 668.2L694 666.7L698 666" fill="none" stroke="#ec1f27" stroke-width="2.6" stroke-linecap="round" stroke-linejoin="round"/><path d="M108.5 669C109.42 668.7 112.05 668.48 114 667.2C115.95 665.92 118.2 663.5 120.2 661.3C122.2 659.1 125.03 655.22 126 654" fill="none" stroke="#ec1f27" stroke-width="3.2" stroke-linecap="round" stroke-linejoin="round"/><path d="M120.2 661.3C121.87 659.23 127.03 653.38 130.2 648.9C133.37 644.42 135.83 639.8 139.2 634.4C142.57 629 146.48 623.03 150.4 616.5C154.32 609.97 158.42 602.3 162.7 595.2C166.98 588.1 171.62 581 176.1 573.9C180.58 566.8 185.12 559.88 189.6 552.6C194.08 545.32 200.77 533.93 203 530.2" fill="none" stroke="#ec1f27" stroke-width="8.0" stroke-linecap="round" stroke-linejoin="round"/><path d="M130.2 648.9C131.7 646.48 135.83 639.8 139.2 634.4C142.57 629 146.48 623.03 150.4 616.5C154.32 609.97 158.42 602.3 162.7 595.2C166.98 588.1 171.62 581 176.1 573.9C180.58 566.8 185.12 559.88 189.6 552.6C194.08 545.32 200.77 533.93 203 530.2" fill="none" stroke="#fff" stroke-width="0.9" stroke-dasharray="0.9 2.6" opacity="0.55" transform="translate(-1.8 0)"/><path d="M130.2 648.9C131.7 646.48 135.83 639.8 139.2 634.4C142.57 629 146.48 623.03 150.4 616.5C154.32 609.97 158.42 602.3 162.7 595.2C166.98 588.1 171.62 581 176.1 573.9C180.58 566.8 185.12 559.88 189.6 552.6C194.08 545.32 200.77 533.93 203 530.2" fill="none" stroke="#fff" stroke-width="0.9" stroke-dasharray="0.9 2.6" opacity="0.55" transform="translate(1.8 0)"/><path d="M203 530.2L208.62 521.98L214.24 512.82L219.86 503.76L225.48 494.8L231.1 485.94L236.72 477.18L242.34 468.53L247.96 459.97L253.58 451.51L259.21 443.15L264.83 434.89L270.45 426.73L276.07 418.67L281.69 410.71L287.31 402.86L292.93 395.1L298.55 387.44L304.17 379.88L309.79 372.42L315.41 365.06L321.03 357.8L326.65 350.63L332.27 343.57L337.89 336.61L343.51 329.75L349.13 322.99L354.75 316.32L360.37 309.76L365.99 303.3L371.62 296.93L377.24 290.67L382.86 284.5L388.48 278.44L394.1 272.47L399.72 266.6L405.34 260.83L410.96 255.16L416.58 249.6L422.2 243.8" fill="none" stroke="#ec1f27" stroke-width="2.6" stroke-linecap="round" stroke-linejoin="round"/><path d="M422.2 243.8L425.2 242.2L428.2 242.8L443 227.9" fill="none" stroke="#ec1f27" stroke-width="2.6" stroke-linecap="round" stroke-linejoin="round"/>
<rect x="400.2" y="359.1" width="281.3" height="281.4" fill="#fff"/><g transform="translate(400.2 359.1)" fill="none" stroke-linecap="round" stroke-linejoin="round"><path d="M5.04 279.4C6.67 275.8 10.99 266.26 14.8 257.8C18.62 249.35 22.63 239.65 27.95 228.69C33.27 217.73 39.85 203.8 46.74 192.06C53.62 180.32 60.51 171.34 69.27 158.25C78.04 145.17 89.31 125.45 99.33 113.55C109.35 101.66 118.11 97.12 129.38 86.88C140.65 76.64 155.68 62.46 166.95 52.13C178.22 41.8 191.36 29.87 197 24.9C202.63 19.92 198.09 24.21 200.75 22.27C203.42 20.33 210.93 14.75 212.96 13.25" stroke="#f28c8f" stroke-width="1.3"/><path d="M5.04 279.4C7.6 275.18 15.37 262.34 20.44 254.05C25.51 245.75 30.14 239.02 35.47 229.63C40.79 220.24 44.54 209.91 52.37 197.7C60.2 185.49 71.15 170.15 82.42 156.38C93.69 142.6 106.84 128.2 119.99 115.05C133.14 101.91 150.35 86.88 161.31 77.49C172.27 68.1 177.28 64.34 185.73 58.71C194.18 53.07 207.64 46.18 212.02 43.68" stroke="#ef8e92" stroke-width="1.3"/><path d="M5.04 279.4C9.17 274.24 21.63 259.21 29.83 248.41C38.03 237.61 45.48 226.5 54.25 214.6C63.01 202.71 73.03 188.62 82.42 177.04C91.81 165.45 102.77 154.5 110.6 145.11C118.42 135.71 125.31 126.32 129.38 120.69C133.45 115.05 131.88 115.05 135.01 111.3C138.15 107.54 144.09 102.22 148.16 98.15C152.23 94.08 156.93 89.38 159.43 86.88C161.94 84.38 162.09 84.38 163.19 83.12C164.28 81.87 165.54 79.99 166.01 79.37" stroke="#ed9094" stroke-width="1.2"/><path d="M5.04 279.4C10.11 273.93 24.76 258.9 35.47 246.53C46.17 234.17 58.32 217.73 69.27 205.21C80.23 192.69 91.19 181.11 101.21 171.4C111.22 161.7 119.99 154.97 129.38 146.98C138.77 139 148.16 131.18 157.55 123.51C166.95 115.84 179.62 106.07 185.73 100.97C191.83 95.86 192.77 94.24 194.18 92.89" stroke="#e7949a" stroke-width="1.2"/><path d="M5.04 279.4C11.05 273.3 29.14 255.77 41.1 242.78C53.06 229.79 65.21 213.04 76.79 201.45C88.37 189.87 100.58 181.73 110.6 173.28C120.61 164.83 130.63 155.12 136.89 150.74C143.15 146.36 144.72 149.18 148.16 146.98C151.61 144.79 155.05 140.72 157.55 137.59C160.06 134.46 161 131.02 163.19 128.2C165.38 125.38 168.2 123.51 170.7 120.69C173.21 117.87 175.71 114.11 178.22 111.3C180.72 108.48 184.01 105.51 185.73 103.78C187.45 102.06 188.08 101.44 188.55 100.97" stroke="#e2989f" stroke-width="1.2"/><path d="M5.04 279.4C11.99 272.99 33.84 252.64 46.74 240.9C59.63 229.16 71.15 218.36 82.42 208.97C93.69 199.58 104.02 192.38 114.35 184.55C124.68 176.72 134.7 169.05 144.41 162.01C154.11 154.97 167.88 145.58 172.58 142.29" stroke="#df9aa2" stroke-width="1.2"/><path d="M5.04 279.4C6.98 275.18 12.24 263.28 16.68 254.05C21.13 244.81 26.86 234.01 31.71 223.99C36.56 213.98 43.45 198.95 45.8 193.94" stroke="#f08d91" stroke-width="1.1"/><path d="M5.04 279.4C7.29 275.18 13.8 263.44 18.56 254.05C23.32 244.66 28.64 233.32 33.59 223.06C38.53 212.79 45.8 197.54 48.24 192.44" stroke="#f08d91" stroke-width="1.1"/><path d="M5.04 279.4C7.6 275.18 15.37 263.59 20.44 254.05C25.51 244.5 30.46 232.57 35.47 222.12C40.47 211.66 47.99 196.45 50.49 191.31" stroke="#f08d91" stroke-width="1.1"/><path d="M5.04 279.4C7.13 275.49 13.02 264.53 17.62 255.93C22.22 247.32 27.73 237.39 32.65 227.75C37.56 218.11 44.7 203.02 47.11 198.07" stroke="#ef8e92" stroke-width="1.1"/><path d="M5.04 279.4C6.82 275.96 11.61 266.73 15.74 258.74C19.88 250.76 25.04 241.06 29.83 231.51C34.62 221.96 42.04 206.46 44.48 201.45" stroke="#ef8e92" stroke-width="1.1"/><path d="M5.04 279.4C7.92 275.49 16.62 263.91 22.32 255.93C28.02 247.94 33.9 239.33 39.22 231.51C44.54 223.68 50.02 212.98 54.25 208.97C58.47 204.96 62.86 207.72 64.58 207.47" stroke="#ee8f93" stroke-width="1.1"/><path d="M5.04 279.4C8.23 275.8 17.56 265.16 24.2 257.8C30.83 250.45 37.97 243.09 44.86 235.26C51.74 227.44 62.07 214.92 65.52 210.85" stroke="#eb9196" stroke-width="1.1"/><path d="M5.04 279.4C10.11 275.18 26.32 262.03 35.47 254.05C44.61 246.06 52.06 239.02 59.88 231.51C67.71 223.99 76.32 213.82 82.42 208.97C88.53 204.12 94.16 203.49 96.51 202.39" stroke="#e99398" stroke-width="1.1"/><path d="M5 279.5L11.62 272.13L18.24 264.72L24.87 257.32L31.49 249.96L38.11 242.67L44.73 235.51L51.36 228.5L57.98 221.7L64.6 215.14L71.22 208.88L77.84 202.95L84.47 197.42L91.09 192.32L97.71 187.73L104.33 183.72L110.96 180.37L117.58 177.81L124.2 176.3" stroke="#d2a4af" stroke-width="0.9"/><path d="M5 279.5L12.94 273.38L20.88 267.14L28.82 260.82L36.76 254.46L44.69 248.12L52.63 241.82L60.57 235.63L68.51 229.57L76.45 223.71L84.39 218.09L92.33 212.75L100.27 207.75L108.21 203.15L116.14 199.01L124.08 195.4L132.02 192.4L139.96 190.12L147.9 188.8" stroke="#cca7b4" stroke-width="0.9"/><path d="M5 279.5L12.59 273.63L20.18 267.66L27.77 261.64L35.36 255.6L42.94 249.57L50.53 243.6L58.12 237.72L65.71 231.98L73.3 226.41L80.89 221.05L88.48 215.96L96.07 211.17L103.66 206.73L111.24 202.7L118.83 199.15L126.42 196.14L134.01 193.78L141.6 192.3" stroke="#c8a9b8" stroke-width="0.9"/><path d="M5 279.5L13.32 274.4L21.64 269.12L29.97 263.72L38.29 258.22L46.61 252.68L54.93 247.14L63.26 241.65L71.58 236.25L79.9 230.99L88.22 225.93L96.54 221.1L104.87 216.57L113.19 212.38L121.51 208.6L129.83 205.3L129.83 209.44L138.16 206.69L138.16 210.64L146.48 208.54L154.8 207.3" stroke="#c4acbc" stroke-width="0.9"/><path d="M5 279.5L13.13 274.81L21.26 269.96L29.38 265.01L37.51 259.97L45.64 254.91L53.77 249.84L61.89 244.82L70.02 239.89L78.15 235.08L86.28 230.43L94.41 226L102.53 221.83L110.66 217.97L118.79 214.46L126.92 211.38L126.92 215.51L135.04 212.91L135.04 215.39L143.17 213.37L151.3 212.11" stroke="#c1adbf" stroke-width="0.9"/><path d="M5 279.5L13.63 275.42L22.27 271.14L30.9 266.68L39.53 262.1L48.17 257.44L56.8 252.74L65.43 248.05L74.07 243.41L82.7 238.87L91.33 234.48L99.97 230.28L108.6 226.31L117.23 222.65L125.87 219.33L134.5 216.42L134.5 219.99L143.13 217.56L143.13 221.55L151.77 219.68L160.4 218.56" stroke="#bbb1c4" stroke-width="0.9"/><path d="M5 279.5L14.71 275.92L24.42 272.08L34.13 268.01L43.84 263.78L53.56 259.42L63.27 254.99L72.98 250.53L82.69 246.1L92.4 241.75L92.4 244.51L102.11 240.28L111.82 236.24L121.53 232.42L131.24 228.9L140.96 225.72L150.67 222.95L150.67 225.18L160.38 222.89L170.09 221.18L179.8 220.19" stroke="#b7b3c8" stroke-width="0.9"/><path d="M5 279.5L13.71 276.36L22.41 273L31.12 269.47L39.82 265.81L48.53 262.05L57.23 258.22L65.94 254.38L74.64 250.55L74.64 254.96L83.35 251.19L92.06 247.52L100.76 243.99L109.47 240.64L118.17 237.51L126.88 234.66L126.88 238.3L135.58 235.77L144.29 233.63L152.99 231.94L161.7 230.85" stroke="#b5b4ca" stroke-width="0.9"/><path d="M5 279.5L13.98 276.84L22.96 273.94L31.93 270.83L40.91 267.57L49.89 264.19L58.87 260.72L67.84 257.21L76.82 253.69L85.8 250.21L94.78 246.8L94.78 250.36L103.76 247.07L112.73 243.94L121.71 241.01L130.69 238.33L139.67 235.95L148.64 233.93L157.62 232.32L157.62 236.4L166.6 235.34" stroke="#b2b6cc" stroke-width="0.9"/><path d="M5 279.5L10.94 272.76L16.89 266.08L22.83 259.47L28.78 252.98L34.72 246.61L40.67 240.41L46.61 234.38L52.56 228.56L58.5 222.98L64.44 217.67L70.39 212.66L76.33 207.99L82.28 203.69L88.22 199.81L94.17 196.41L100.11 193.55L106.06 191.33L112 190" stroke="#cfa5b2" stroke-width="0.9"/><path d="M5 279.5L11.28 273.21L17.56 266.98L23.83 260.82L30.11 254.76L36.39 248.82L42.67 243.03L48.94 237.4L55.22 231.98L61.5 226.77L67.78 221.82L74.06 217.14L80.33 212.78L86.61 208.77L92.89 205.16L99.17 201.98L105.44 199.31L111.72 197.24L118 196" stroke="#cba8b6" stroke-width="0.9"/><path d="M5 279.5L10.61 273.51L16.22 267.58L21.83 261.71L27.44 255.94L33.06 250.29L38.67 244.77L44.28 239.42L49.89 234.25L55.5 229.3L61.11 224.58L66.72 220.13L72.33 215.98L77.94 212.16L83.56 208.72L89.17 205.69L94.78 203.15L100.39 201.18L106 200" stroke="#c6aaba" stroke-width="0.9"/><path d="M5 279.5L11.94 274.11L18.89 268.71L25.83 263.31L32.78 257.94L39.72 252.64L46.67 247.43L53.61 242.33L60.56 237.38L60.56 239.47L67.5 234.7L67.5 238.9L74.44 234.33L81.39 230.01L88.33 225.96L95.28 222.23L102.22 218.86L109.17 215.89L116.11 213.4L123.06 211.46L130 210.29" stroke="#c2adbe" stroke-width="0.9"/><path d="M5 279.5L14.09 277.4L23.19 275.07L32.28 272.53L41.38 269.82L50.47 266.98L59.57 264.04L68.66 261.04L77.76 258.03L77.76 261.97L86.85 258.97L95.94 256.02L105.04 253.15L114.13 250.42L123.23 247.86L132.32 245.51L141.42 243.42L150.51 241.63L159.61 240.21L159.61 243.02L168.7 242.06" stroke="#acbad2" stroke-width="0.9"/><path d="M5 279.5L15.02 277.63L25.03 275.49L35.05 273.1L45.07 270.51L55.08 267.77L65.1 264.9L75.12 261.96L85.13 258.98L95.15 256L105.17 253.07L115.18 250.23L115.18 253.53L125.2 250.82L135.22 248.28L145.23 245.97L155.25 243.93L165.27 242.2L175.28 240.86L175.28 244.46L185.3 243.6" stroke="#a8bdd6" stroke-width="0.9"/><path d="M5 279.5L16.41 278.05L27.82 276.31L39.23 274.34L50.64 272.15L62.06 269.81L73.47 267.34L84.88 264.79L96.29 262.19L96.29 265.85L107.7 263.24L119.11 260.68L130.52 258.19L141.93 255.82L153.34 253.62L164.76 251.62L176.17 249.87L176.17 253.01L187.58 251.56L198.99 250.46L210.4 249.8" stroke="#a2c1db" stroke-width="0.9"/><path d="M5 279.5L16.64 278.47L28.28 277.2L39.92 275.72L51.56 274.07L63.19 272.27L74.83 270.36L86.47 268.37L98.11 266.33L109.75 264.27L121.39 262.23L133.03 260.24L144.67 258.33L144.67 262.82L156.31 261.03L167.94 259.39L167.94 263.88L179.58 262.42L191.22 261.19L202.86 260.22L214.5 259.58" stroke="#9dc3de" stroke-width="0.9"/><path d="M5 279.5L15.37 278.53L25.73 277.33L36.1 275.95L46.47 274.4L56.83 272.72L67.2 270.93L77.57 269.07L87.93 267.16L98.3 265.23L98.3 268.02L108.67 266.1L119.03 264.22L129.4 262.41L129.4 264.98L139.77 263.27L150.13 261.69L160.5 260.27L170.87 259.05L181.23 258.06L191.6 257.36" stroke="#99c6e2" stroke-width="0.9"/><path d="M5 279.5L13.94 278.84L22.88 278L31.82 277L40.76 275.86L49.69 274.62L58.63 273.28L67.57 271.87L76.51 270.41L76.51 272.59L85.45 271.11L94.39 269.62L103.33 268.16L112.27 266.74L112.27 270.65L121.21 269.3L130.14 268.03L139.08 266.88L148.02 265.87L156.96 265.03L165.9 264.39" stroke="#94c8e5" stroke-width="0.9"/><path d="M5 279.5L15.79 278.94L26.58 278.23L37.37 277.38L48.16 276.42L58.94 275.35L69.73 274.21L80.52 273.01L91.31 271.78L102.1 270.52L102.1 274.64L112.89 273.38L123.68 272.15L134.47 270.96L145.26 269.83L156.04 268.79L156.04 271.76L166.83 270.82L177.62 270.01L188.41 269.35L199.2 268.88" stroke="#8fcbe9" stroke-width="0.9"/><path d="M5 279.5L19.18 278.86L33.37 278.05L47.55 277.08L61.73 275.97L75.92 274.74L90.1 273.4L104.28 271.96L118.47 270.45L118.47 272.98L132.65 271.41L146.83 269.8L161.02 268.15L175.2 266.49L189.38 264.84L203.57 263.22L217.75 261.63L231.93 260.1L246.12 258.66L246.12 262.98L260.3 261.65" stroke="#a0c2dd" stroke-width="0.9"/><path d="M5 279.5L11.39 278.18L17.78 276.64L24.17 274.9L30.56 272.99L36.94 270.94L43.33 268.79L49.72 266.55L56.11 264.27L56.11 267.21L62.5 264.92L68.89 262.64L75.28 260.4L81.67 258.25L88.06 256.2L94.44 254.3L100.83 252.59L100.83 256.36L107.22 254.86L113.61 253.62L120 252.71" stroke="#a6bed7" stroke-width="0.9"/><path d="M5 279.5L12.5 278.53L20 277.33L27.5 275.95L35 274.4L42.5 272.72L50 270.93L57.5 269.07L65 267.16L72.5 265.23L72.5 268.65L80 266.73L87.5 264.84L95 263.03L102.5 261.32L110 259.74L110 262.24L117.5 260.82L125 259.6L132.5 258.61L140 257.91" stroke="#96c7e4" stroke-width="0.9"/><path d="M5 279.5L10.83 278.95L16.67 278.26L22.5 277.43L28.33 276.5L34.17 275.47L40 274.36L45.83 273.2L51.67 272L57.5 270.78L63.33 269.55L69.17 268.34L75 267.17L75 269.39L80.83 268.27L80.83 271.1L86.67 270.06L92.5 269.11L98.33 268.27L104.17 267.57L110 267.05" stroke="#8ccdec" stroke-width="0.9"/><path d="M5 279.5L14.72 278.24L24.44 276.68L34.17 274.86L43.89 272.83L53.61 270.62L63.33 268.27L73.06 265.82L82.78 263.32L92.5 260.79L92.5 263.13L102.22 260.62L111.94 258.17L121.67 255.83L131.39 253.63L141.11 251.61L141.11 255.38L150.83 253.59L160.56 252.08L170.28 250.89L180 250.1" stroke="#9bc4e0" stroke-width="0.9"/><path d="M5 279.5L13.06 277.94L21.11 276.1L29.17 274.02L37.22 271.73L45.28 269.28L53.33 266.69L61.39 264.02L69.44 261.29L69.44 264.45L77.5 261.71L85.56 258.99L93.61 256.33L101.67 253.79L109.72 251.38L117.78 249.17L125.83 247.19L133.89 245.49L141.94 244.12L141.94 247.33L150 246.38" stroke="#a4bfd9" stroke-width="0.9"/><path d="M5 279.5L10.28 277.26L15.56 274.79L20.83 272.12L26.11 269.28L31.39 266.31L36.67 263.24L41.94 260.11L47.22 256.94L52.5 253.79L57.78 250.67L63.06 247.64L63.06 250.76L68.33 247.83L73.61 245.07L78.89 242.49L84.17 240.15L89.44 238.1L89.44 240.58L94.72 238.86L100 237.6" stroke="#b0b8ce" stroke-width="0.9"/><path d="M5 279.5L11.94 276.6L18.89 273.46L25.83 270.11L32.78 266.59L39.72 262.94L46.67 259.21L53.61 255.42L60.56 251.63L67.5 247.87L74.44 244.19L74.44 247.79L81.39 244.23L88.33 240.82L95.28 237.62L102.22 234.67L102.22 236.96L109.17 234.32L116.11 232.04L123.06 230.19L130 228.9" stroke="#b4b5cb" stroke-width="0.9"/><path d="M5 279.5L9.72 278.64L14.44 277.6L19.17 276.41L23.89 275.08L28.61 273.64L33.33 272.1L38.06 270.5L42.78 268.86L47.5 267.18L52.22 265.51L56.94 263.86L56.94 265.86L61.67 264.26L66.39 262.72L71.11 261.28L71.11 265.44L75.83 264.12L80.56 262.94L85.28 261.94L90 261.16" stroke="#92cae7" stroke-width="0.9"/><path d="M5 279.5L16.11 278.72L27.22 277.72L38.33 276.53L49.44 275.17L60.56 273.66L71.67 272.05L82.78 270.36L93.89 268.62L105 266.86L116.11 265.1L127.22 263.38L138.33 261.73L138.33 266.22L149.44 264.67L160.56 263.24L171.67 261.98L182.78 260.9L193.89 260.06L193.89 262.11L205 261.54" stroke="#92cae7" stroke-width="0.9"/><path d="M253.9 256.2L259.4 252" stroke="#d3a3ae" stroke-width="1.1"/><path d="M235.4 268.6L242.4 266.6" stroke="#a1c1dc" stroke-width="1.1"/><path d="M218.7 271.4L228.5 268" stroke="#b3b6cc" stroke-width="1.1"/><path d="M199.2 275.7L203.4 271.4" stroke="#cba8b6" stroke-width="1.1"/><path d="M210.4 272.2L214.5 272.4" stroke="#9ac5e1" stroke-width="1.1"/><path d="M211.7 263.8L221.5 257.6" stroke="#adbad1" stroke-width="1.1"/><path d="M195 259L202 256" stroke="#c2adbe" stroke-width="1.1"/><path d="M202 113L209 110" stroke="#93c9e6" stroke-width="1.1"/><path d="M3.7 279.6C5.68 275.47 11.3 263.57 15.6 254.8C19.9 246.03 25.2 235.93 29.5 227C33.8 218.07 38.1 207.15 41.4 201.2C44.7 195.25 45.33 197.25 49.3 191.3C53.27 185.35 59.9 173.77 65.2 165.5C70.5 157.23 75.13 150.63 81.1 141.7C87.07 132.77 94.72 120.17 101 111.9C107.28 103.63 112.2 98.38 118.8 92.1C125.4 85.82 133 80.82 140.6 74.2C148.2 67.58 157.12 59.02 164.4 52.4C171.68 45.78 178.35 39.62 184.3 34.5C190.25 29.38 196.97 24 200.1 21.7C203.23 19.4 200.95 22.03 203.1 20.7C205.25 19.37 211.35 14.87 213 13.7" stroke="#ec1f27" stroke-width="2.6"/><path d="M3.7 279.6C5.68 275.47 11.3 263.57 15.6 254.8C19.9 246.03 25.2 235.93 29.5 227C33.8 218.07 38.1 207.15 41.4 201.2C44.7 195.25 47.98 192.95 49.3 191.3" stroke="#ec1f27" stroke-width="5.0"/><rect x="13.9" y="38.7" width="11.3" height="82.9" fill="url(#cb_a)" stroke="none"/><rect x="13.9" y="37.05" width="14.5" height="3.7" fill="#ec1f27" stroke="none"/><text x="35" y="46.1" font-family="'Liberation Sans', Arial, Helvetica, sans-serif" font-size="25" fill="#000" stroke="none">57.5%</text><text x="18.9" y="29.5" font-family="'Liberation Serif', 'Times New Roman', serif" font-style="italic" font-size="25" fill="#000" stroke="none">ρ</text><rect x="20.6" y="11.5" width="12" height="1.5" fill="#000" stroke="none"/></g><rect x="400.2" y="359.1" width="281.3" height="281.4" fill="none" stroke="#231f20" stroke-width="3.3"/>
<rect x="108" y="205.5" width="618" height="463.7" fill="none" stroke="#000" stroke-width="1.8"/><path d="M184.55 669.2v-15M184.55 205.5v15M261.1 669.2v-15M261.1 205.5v15M337.65 669.2v-15M337.65 205.5v15M414.2 669.2v-15M414.2 205.5v15M490.75 669.2v-15M490.75 205.5v15M567.3 669.2v-15M567.3 205.5v15M643.85 669.2v-15M643.85 205.5v15M720.4 669.2v-15M720.4 205.5v15M108 595h15M726 595h-15M108 520.8h15M726 520.8h-15M108 446.6h15M726 446.6h-15M108 372.4h15M726 372.4h-15M108 298.2h15M726 298.2h-15M108 224h15M726 224h-15" stroke="#000" stroke-width="1.8" fill="none"/><g font-family="'Liberation Sans', Arial, Helvetica, sans-serif" font-size="29.4" fill="#000"><text x="108" y="704" text-anchor="middle">0</text><text x="184.55" y="704" text-anchor="middle">0.05</text><text x="261.1" y="704" text-anchor="middle">0.1</text><text x="337.65" y="704" text-anchor="middle">0.15</text><text x="414.2" y="704" text-anchor="middle">0.2</text><text x="490.75" y="704" text-anchor="middle">0.25</text><text x="567.3" y="704" text-anchor="middle">0.3</text><text x="643.85" y="704" text-anchor="middle">0.35</text><text x="720.4" y="704" text-anchor="middle">0.4</text><text x="94.8" y="679.3" text-anchor="end">0</text><text x="94.8" y="605.1" text-anchor="end">0.5</text><text x="94.8" y="530.9" text-anchor="end">1</text><text x="94.8" y="456.7" text-anchor="end">1.5</text><text x="94.8" y="382.5" text-anchor="end">2</text><text x="94.8" y="308.3" text-anchor="end">2.5</text><text x="94.8" y="234.1" text-anchor="end">3</text></g><text x="259.2" y="748.9" font-family="'Liberation Sans', Arial, Helvetica, sans-serif" font-size="29.4">Engineering strain, <tspan font-family="'Liberation Serif', 'Times New Roman', serif" font-style="italic">ε</tspan> (–)</text><text transform="translate(26.9 443.95) rotate(-90)" text-anchor="middle" font-family="'Liberation Sans', Arial, Helvetica, sans-serif" font-size="29.4">Engineering stress, <tspan font-family="'Liberation Serif', 'Times New Roman', serif" font-style="italic">σ</tspan> (GPa)</text>
<path d="M894 668.3H1470" fill="none" stroke="#c23b50" stroke-width="1.2" stroke-linecap="round" stroke-linejoin="round" opacity="0.5"/><path d="M1466 667.7L1476 666.3L1484 665.3" fill="none" stroke="#c23b50" stroke-width="3.0" stroke-linecap="round" stroke-linejoin="round"/><path d="M893.3 668.6C895.25 668.27 901.2 667.73 905 666.6C908.8 665.47 912.77 663.32 916.1 661.8C919.43 660.28 923.52 658.22 925 657.5" fill="none" stroke="#c23b50" stroke-width="3.0" stroke-linecap="round" stroke-linejoin="round"/><path d="M916.1 662.52L917.88 661.8L919.67 661.01L921.45 660.15L923.23 659.22L925.02 658.22L926.8 657.16L928.58 656.04L930.37 654.85L932.15 653.6L933.94 652.29L935.72 650.91L937.5 649.48L939.29 648L941.07 646.45L942.85 644.85L944.64 643.2L946.42 641.49L948.2 639.73L949.99 637.93L951.77 636.07L953.55 634.16L955.34 632.21L957.12 630.21L958.91 628.17L960.69 626.09L962.47 623.96L964.26 621.79L966.04 619.59L967.82 617.34L969.61 615.06L971.39 612.74L973.17 610.39L974.96 608L976.74 605.58L978.52 603.13L980.31 600.65L982.09 598.15L983.87 595.61L985.66 593.05L987.44 590.46L989.23 587.85L991.01 585.21L992.79 582.56L994.58 579.88L996.36 577.19L998.14 574.48L999.93 571.75L1001.71 569L1003.49 566.24L1005.28 563.47L1007.06 560.68L1008.84 557.89L1010.63 555.08L1012.41 552.27L1014.19 549.45L1015.98 546.62L1017.76 543.79L1019.55 540.95L1021.33 538.12L1023.11 535.28L1024.9 532.44L1026.68 529.6L1028.46 526.77L1030.25 523.94L1032.03 521.11L1033.81 518.29L1035.6 515.48L1037.38 512.67L1039.16 509.88L1040.95 507.09L1042.73 504.32L1044.52 501.56L1046.3 498.82L1048.08 496.09L1049.87 493.38L1051.65 490.68L1053.43 488.01L1055.22 485.35L1057 482.72" fill="none" stroke="#c23b50" stroke-width="6.5" stroke-linecap="round" stroke-linejoin="round"/><path d="M916.1 662.52L917.88 661.8L919.67 661.01L921.45 660.15L923.23 659.22L925.02 658.22L926.8 657.16L928.58 656.04L930.37 654.85L932.15 653.6L933.94 652.29L935.72 650.91L937.5 649.48L939.29 648L941.07 646.45L942.85 644.85L944.64 643.2L946.42 641.49L948.2 639.73L949.99 637.93L951.77 636.07L953.55 634.16L955.34 632.21L957.12 630.21L958.91 628.17L960.69 626.09L962.47 623.96L964.26 621.79L966.04 619.59L967.82 617.34L969.61 615.06L971.39 612.74L973.17 610.39L974.96 608L976.74 605.58L978.52 603.13L980.31 600.65L982.09 598.15L983.87 595.61L985.66 593.05L987.44 590.46L989.23 587.85L991.01 585.21L992.79 582.56L994.58 579.88L996.36 577.19L998.14 574.48L999.93 571.75L1001.71 569L1003.49 566.24L1005.28 563.47L1007.06 560.68L1008.84 557.89L1010.63 555.08L1012.41 552.27L1014.19 549.45L1015.98 546.62L1017.76 543.79L1019.55 540.95L1021.33 538.12L1023.11 535.28L1024.9 532.44L1026.68 529.6L1028.46 526.77L1030.25 523.94L1032.03 521.11L1033.81 518.29L1035.6 515.48L1037.38 512.67L1039.16 509.88L1040.95 507.09L1042.73 504.32L1044.52 501.56L1046.3 498.82L1048.08 496.09L1049.87 493.38L1051.65 490.68L1053.43 488.01L1055.22 485.35L1057 482.72" fill="none" stroke="#fff" stroke-width="0.8" stroke-dasharray="0.8 2.6" opacity="0.5" transform="translate(-1.6 0)"/><path d="M916.1 662.52L917.88 661.8L919.67 661.01L921.45 660.15L923.23 659.22L925.02 658.22L926.8 657.16L928.58 656.04L930.37 654.85L932.15 653.6L933.94 652.29L935.72 650.91L937.5 649.48L939.29 648L941.07 646.45L942.85 644.85L944.64 643.2L946.42 641.49L948.2 639.73L949.99 637.93L951.77 636.07L953.55 634.16L955.34 632.21L957.12 630.21L958.91 628.17L960.69 626.09L962.47 623.96L964.26 621.79L966.04 619.59L967.82 617.34L969.61 615.06L971.39 612.74L973.17 610.39L974.96 608L976.74 605.58L978.52 603.13L980.31 600.65L982.09 598.15L983.87 595.61L985.66 593.05L987.44 590.46L989.23 587.85L991.01 585.21L992.79 582.56L994.58 579.88L996.36 577.19L998.14 574.48L999.93 571.75L1001.71 569L1003.49 566.24L1005.28 563.47L1007.06 560.68L1008.84 557.89L1010.63 555.08L1012.41 552.27L1014.19 549.45L1015.98 546.62L1017.76 543.79L1019.55 540.95L1021.33 538.12L1023.11 535.28L1024.9 532.44L1026.68 529.6L1028.46 526.77L1030.25 523.94L1032.03 521.11L1033.81 518.29L1035.6 515.48L1037.38 512.67L1039.16 509.88L1040.95 507.09L1042.73 504.32L1044.52 501.56L1046.3 498.82L1048.08 496.09L1049.87 493.38L1051.65 490.68L1053.43 488.01L1055.22 485.35L1057 482.72" fill="none" stroke="#fff" stroke-width="0.8" stroke-dasharray="0.8 2.6" opacity="0.5" transform="translate(1.6 0)"/><path d="M1057 481.8L1061.33 472.79L1065.65 465.05L1069.98 457.48L1074.3 450.07L1078.63 442.8L1082.95 435.68L1087.28 428.7L1091.61 421.84L1095.93 415.1L1100.26 408.47L1104.58 401.94L1108.91 395.5L1113.23 389.15L1117.56 382.87L1121.88 376.66L1126.21 370.51L1130.54 364.41L1134.86 358.35L1139.19 352.33L1143.51 346.33L1147.84 340.35L1152.16 334.38L1156.49 328.4L1160.82 322.42L1165.14 316.42L1169.47 310.4L1173.79 304.34L1178.12 298.25L1182.44 292.1L1186.77 285.89L1191.09 279.62L1195.42 273.27L1199.75 266.83L1204.07 260.31L1208.4 253.68L1212.72 246.95L1217.05 240.1L1221.37 233.12L1225.7 227.8" fill="none" stroke="#c23b50" stroke-width="3.0" stroke-linecap="round" stroke-linejoin="round"/><path d="M1130.52 364.54L1144.23 348.8L1157.63 331.26L1169.75 307.64L1184.8 290.47L1198.22 268L1204.14 257.54L1210.98 248.73L1218.12 237.29L1225.3 228.55" fill="none" stroke="#c23b50" stroke-width="2.4" stroke-linecap="round" stroke-linejoin="round"/><path d="M1225.7 227.8L1229.7 232.5" fill="none" stroke="#c23b50" stroke-width="2.6" stroke-linecap="round" stroke-linejoin="round"/><path d="M1244.5 262L1248.5 266L1253 262L1258.6 257.3" fill="none" stroke="#c23b50" stroke-width="3.0" stroke-linecap="round" stroke-linejoin="round"/>
<rect x="1185.6" y="358.8" width="281.3" height="281.4" fill="#fff"/><g transform="translate(1185.6 358.8)" fill="none" stroke-linecap="round" stroke-linejoin="round"><path d="M5.04 279.4C6.67 275.8 10.99 266.26 14.8 257.8C18.62 249.35 22.63 239.65 27.95 228.69C33.27 217.73 39.85 203.8 46.74 192.06C53.62 180.32 60.51 171.34 69.27 158.25C78.04 145.17 89.31 125.45 99.33 113.55C109.35 101.66 118.11 97.12 129.38 86.88C140.65 76.64 155.68 62.46 166.95 52.13C178.22 41.8 191.36 29.87 197 24.9C202.63 19.92 198.09 24.21 200.75 22.27C203.42 20.33 210.93 14.75 212.96 13.25" stroke="#f28c8f" stroke-width="1.3"/><path d="M5.04 279.4C7.6 275.18 15.37 262.34 20.44 254.05C25.51 245.75 30.14 239.02 35.47 229.63C40.79 220.24 44.54 209.91 52.37 197.7C60.2 185.49 71.15 170.15 82.42 156.38C93.69 142.6 106.84 128.2 119.99 115.05C133.14 101.91 150.35 86.88 161.31 77.49C172.27 68.1 177.28 64.34 185.73 58.71C194.18 53.07 207.64 46.18 212.02 43.68" stroke="#ef8e92" stroke-width="1.3"/><path d="M5.04 279.4C9.17 274.24 21.63 259.21 29.83 248.41C38.03 237.61 45.48 226.5 54.25 214.6C63.01 202.71 73.03 188.62 82.42 177.04C91.81 165.45 102.77 154.5 110.6 145.11C118.42 135.71 125.31 126.32 129.38 120.69C133.45 115.05 131.88 115.05 135.01 111.3C138.15 107.54 144.09 102.22 148.16 98.15C152.23 94.08 156.93 89.38 159.43 86.88C161.94 84.38 162.09 84.38 163.19 83.12C164.28 81.87 165.54 79.99 166.01 79.37" stroke="#ed9094" stroke-width="1.2"/><path d="M5.04 279.4C10.11 273.93 24.76 258.9 35.47 246.53C46.17 234.17 58.32 217.73 69.27 205.21C80.23 192.69 91.19 181.11 101.21 171.4C111.22 161.7 119.99 154.97 129.38 146.98C138.77 139 148.16 131.18 157.55 123.51C166.95 115.84 179.62 106.07 185.73 100.97C191.83 95.86 192.77 94.24 194.18 92.89" stroke="#e7949a" stroke-width="1.2"/><path d="M5.04 279.4C11.05 273.3 29.14 255.77 41.1 242.78C53.06 229.79 65.21 213.04 76.79 201.45C88.37 189.87 100.58 181.73 110.6 173.28C120.61 164.83 130.63 155.12 136.89 150.74C143.15 146.36 144.72 149.18 148.16 146.98C151.61 144.79 155.05 140.72 157.55 137.59C160.06 134.46 161 131.02 163.19 128.2C165.38 125.38 168.2 123.51 170.7 120.69C173.21 117.87 175.71 114.11 178.22 111.3C180.72 108.48 184.01 105.51 185.73 103.78C187.45 102.06 188.08 101.44 188.55 100.97" stroke="#e2989f" stroke-width="1.2"/><path d="M5.04 279.4C11.99 272.99 33.84 252.64 46.74 240.9C59.63 229.16 71.15 218.36 82.42 208.97C93.69 199.58 104.02 192.38 114.35 184.55C124.68 176.72 134.7 169.05 144.41 162.01C154.11 154.97 167.88 145.58 172.58 142.29" stroke="#df9aa2" stroke-width="1.2"/><path d="M5.04 279.4C6.98 275.18 12.24 263.28 16.68 254.05C21.13 244.81 26.86 234.01 31.71 223.99C36.56 213.98 43.45 198.95 45.8 193.94" stroke="#f08d91" stroke-width="1.1"/><path d="M5.04 279.4C7.29 275.18 13.8 263.44 18.56 254.05C23.32 244.66 28.64 233.32 33.59 223.06C38.53 212.79 45.8 197.54 48.24 192.44" stroke="#f08d91" stroke-width="1.1"/><path d="M5.04 279.4C7.6 275.18 15.37 263.59 20.44 254.05C25.51 244.5 30.46 232.57 35.47 222.12C40.47 211.66 47.99 196.45 50.49 191.31" stroke="#f08d91" stroke-width="1.1"/><path d="M5.04 279.4C7.13 275.49 13.02 264.53 17.62 255.93C22.22 247.32 27.73 237.39 32.65 227.75C37.56 218.11 44.7 203.02 47.11 198.07" stroke="#ef8e92" stroke-width="1.1"/><path d="M5.04 279.4C6.82 275.96 11.61 266.73 15.74 258.74C19.88 250.76 25.04 241.06 29.83 231.51C34.62 221.96 42.04 206.46 44.48 201.45" stroke="#ef8e92" stroke-width="1.1"/><path d="M5.04 279.4C7.92 275.49 16.62 263.91 22.32 255.93C28.02 247.94 33.9 239.33 39.22 231.51C44.54 223.68 50.02 212.98 54.25 208.97C58.47 204.96 62.86 207.72 64.58 207.47" stroke="#ee8f93" stroke-width="1.1"/><path d="M5.04 279.4C8.23 275.8 17.56 265.16 24.2 257.8C30.83 250.45 37.97 243.09 44.86 235.26C51.74 227.44 62.07 214.92 65.52 210.85" stroke="#eb9196" stroke-width="1.1"/><path d="M5.04 279.4C10.11 275.18 26.32 262.03 35.47 254.05C44.61 246.06 52.06 239.02 59.88 231.51C67.71 223.99 76.32 213.82 82.42 208.97C88.53 204.12 94.16 203.49 96.51 202.39" stroke="#e99398" stroke-width="1.1"/><path d="M5 279.5L11.62 272.13L18.24 264.72L24.87 257.32L31.49 249.96L38.11 242.67L44.73 235.51L51.36 228.5L57.98 221.7L64.6 215.14L71.22 208.88L77.84 202.95L84.47 197.42L91.09 192.32L97.71 187.73L104.33 183.72L110.96 180.37L117.58 177.81L124.2 176.3" stroke="#d2a4af" stroke-width="0.9"/><path d="M5 279.5L12.94 273.38L20.88 267.14L28.82 260.82L36.76 254.46L44.69 248.12L52.63 241.82L60.57 235.63L68.51 229.57L76.45 223.71L84.39 218.09L92.33 212.75L100.27 207.75L108.21 203.15L116.14 199.01L124.08 195.4L132.02 192.4L139.96 190.12L147.9 188.8" stroke="#cca7b4" stroke-width="0.9"/><path d="M5 279.5L12.59 273.63L20.18 267.66L27.77 261.64L35.36 255.6L42.94 249.57L50.53 243.6L58.12 237.72L65.71 231.98L73.3 226.41L80.89 221.05L88.48 215.96L96.07 211.17L103.66 206.73L111.24 202.7L118.83 199.15L126.42 196.14L134.01 193.78L141.6 192.3" stroke="#c8a9b8" stroke-width="0.9"/><path d="M5 279.5L13.32 274.4L21.64 269.12L29.97 263.72L38.29 258.22L46.61 252.68L54.93 247.14L63.26 241.65L71.58 236.25L79.9 230.99L88.22 225.93L96.54 221.1L104.87 216.57L113.19 212.38L121.51 208.6L129.83 205.3L129.83 209.44L138.16 206.69L138.16 210.64L146.48 208.54L154.8 207.3" stroke="#c4acbc" stroke-width="0.9"/><path d="M5 279.5L13.13 274.81L21.26 269.96L29.38 265.01L37.51 259.97L45.64 254.91L53.77 249.84L61.89 244.82L70.02 239.89L78.15 235.08L86.28 230.43L94.41 226L102.53 221.83L110.66 217.97L118.79 214.46L126.92 211.38L126.92 215.51L135.04 212.91L135.04 215.39L143.17 213.37L151.3 212.11" stroke="#c1adbf" stroke-width="0.9"/><path d="M5 279.5L13.63 275.42L22.27 271.14L30.9 266.68L39.53 262.1L48.17 257.44L56.8 252.74L65.43 248.05L74.07 243.41L82.7 238.87L91.33 234.48L99.97 230.28L108.6 226.31L117.23 222.65L125.87 219.33L134.5 216.42L134.5 219.99L143.13 217.56L143.13 221.55L151.77 219.68L160.4 218.56" stroke="#bbb1c4" stroke-width="0.9"/><path d="M5 279.5L14.71 275.92L24.42 272.08L34.13 268.01L43.84 263.78L53.56 259.42L63.27 254.99L72.98 250.53L82.69 246.1L92.4 241.75L92.4 244.51L102.11 240.28L111.82 236.24L121.53 232.42L131.24 228.9L140.96 225.72L150.67 222.95L150.67 225.18L160.38 222.89L170.09 221.18L179.8 220.19" stroke="#b7b3c8" stroke-width="0.9"/><path d="M5 279.5L13.71 276.36L22.41 273L31.12 269.47L39.82 265.81L48.53 262.05L57.23 258.22L65.94 254.38L74.64 250.55L74.64 254.96L83.35 251.19L92.06 247.52L100.76 243.99L109.47 240.64L118.17 237.51L126.88 234.66L126.88 238.3L135.58 235.77L144.29 233.63L152.99 231.94L161.7 230.85" stroke="#b5b4ca" stroke-width="0.9"/><path d="M5 279.5L13.98 276.84L22.96 273.94L31.93 270.83L40.91 267.57L49.89 264.19L58.87 260.72L67.84 257.21L76.82 253.69L85.8 250.21L94.78 246.8L94.78 250.36L103.76 247.07L112.73 243.94L121.71 241.01L130.69 238.33L139.67 235.95L148.64 233.93L157.62 232.32L157.62 236.4L166.6 235.34" stroke="#b2b6cc" stroke-width="0.9"/><path d="M5 279.5L10.94 272.76L16.89 266.08L22.83 259.47L28.78 252.98L34.72 246.61L40.67 240.41L46.61 234.38L52.56 228.56L58.5 222.98L64.44 217.67L70.39 212.66L76.33 207.99L82.28 203.69L88.22 199.81L94.17 196.41L100.11 193.55L106.06 191.33L112 190" stroke="#cfa5b2" stroke-width="0.9"/><path d="M5 279.5L11.28 273.21L17.56 266.98L23.83 260.82L30.11 254.76L36.39 248.82L42.67 243.03L48.94 237.4L55.22 231.98L61.5 226.77L67.78 221.82L74.06 217.14L80.33 212.78L86.61 208.77L92.89 205.16L99.17 201.98L105.44 199.31L111.72 197.24L118 196" stroke="#cba8b6" stroke-width="0.9"/><path d="M5 279.5L10.61 273.51L16.22 267.58L21.83 261.71L27.44 255.94L33.06 250.29L38.67 244.77L44.28 239.42L49.89 234.25L55.5 229.3L61.11 224.58L66.72 220.13L72.33 215.98L77.94 212.16L83.56 208.72L89.17 205.69L94.78 203.15L100.39 201.18L106 200" stroke="#c6aaba" stroke-width="0.9"/><path d="M5 279.5L11.94 274.11L18.89 268.71L25.83 263.31L32.78 257.94L39.72 252.64L46.67 247.43L53.61 242.33L60.56 237.38L60.56 239.47L67.5 234.7L67.5 238.9L74.44 234.33L81.39 230.01L88.33 225.96L95.28 222.23L102.22 218.86L109.17 215.89L116.11 213.4L123.06 211.46L130 210.29" stroke="#c2adbe" stroke-width="0.9"/><path d="M5 279.5L14.09 277.4L23.19 275.07L32.28 272.53L41.38 269.82L50.47 266.98L59.57 264.04L68.66 261.04L77.76 258.03L77.76 261.97L86.85 258.97L95.94 256.02L105.04 253.15L114.13 250.42L123.23 247.86L132.32 245.51L141.42 243.42L150.51 241.63L159.61 240.21L159.61 243.02L168.7 242.06" stroke="#acbad2" stroke-width="0.9"/><path d="M5 279.5L15.02 277.63L25.03 275.49L35.05 273.1L45.07 270.51L55.08 267.77L65.1 264.9L75.12 261.96L85.13 258.98L95.15 256L105.17 253.07L115.18 250.23L115.18 253.53L125.2 250.82L135.22 248.28L145.23 245.97L155.25 243.93L165.27 242.2L175.28 240.86L175.28 244.46L185.3 243.6" stroke="#a8bdd6" stroke-width="0.9"/><path d="M5 279.5L16.41 278.05L27.82 276.31L39.23 274.34L50.64 272.15L62.06 269.81L73.47 267.34L84.88 264.79L96.29 262.19L96.29 265.85L107.7 263.24L119.11 260.68L130.52 258.19L141.93 255.82L153.34 253.62L164.76 251.62L176.17 249.87L176.17 253.01L187.58 251.56L198.99 250.46L210.4 249.8" stroke="#a2c1db" stroke-width="0.9"/><path d="M5 279.5L16.64 278.47L28.28 277.2L39.92 275.72L51.56 274.07L63.19 272.27L74.83 270.36L86.47 268.37L98.11 266.33L109.75 264.27L121.39 262.23L133.03 260.24L144.67 258.33L144.67 262.82L156.31 261.03L167.94 259.39L167.94 263.88L179.58 262.42L191.22 261.19L202.86 260.22L214.5 259.58" stroke="#9dc3de" stroke-width="0.9"/><path d="M5 279.5L15.37 278.53L25.73 277.33L36.1 275.95L46.47 274.4L56.83 272.72L67.2 270.93L77.57 269.07L87.93 267.16L98.3 265.23L98.3 268.02L108.67 266.1L119.03 264.22L129.4 262.41L129.4 264.98L139.77 263.27L150.13 261.69L160.5 260.27L170.87 259.05L181.23 258.06L191.6 257.36" stroke="#99c6e2" stroke-width="0.9"/><path d="M5 279.5L13.94 278.84L22.88 278L31.82 277L40.76 275.86L49.69 274.62L58.63 273.28L67.57 271.87L76.51 270.41L76.51 272.59L85.45 271.11L94.39 269.62L103.33 268.16L112.27 266.74L112.27 270.65L121.21 269.3L130.14 268.03L139.08 266.88L148.02 265.87L156.96 265.03L165.9 264.39" stroke="#94c8e5" stroke-width="0.9"/><path d="M5 279.5L15.79 278.94L26.58 278.23L37.37 277.38L48.16 276.42L58.94 275.35L69.73 274.21L80.52 273.01L91.31 271.78L102.1 270.52L102.1 274.64L112.89 273.38L123.68 272.15L134.47 270.96L145.26 269.83L156.04 268.79L156.04 271.76L166.83 270.82L177.62 270.01L188.41 269.35L199.2 268.88" stroke="#8fcbe9" stroke-width="0.9"/><path d="M5 279.5L19.18 278.86L33.37 278.05L47.55 277.08L61.73 275.97L75.92 274.74L90.1 273.4L104.28 271.96L118.47 270.45L118.47 272.98L132.65 271.41L146.83 269.8L161.02 268.15L175.2 266.49L189.38 264.84L203.57 263.22L217.75 261.63L231.93 260.1L246.12 258.66L246.12 262.98L260.3 261.65" stroke="#a0c2dd" stroke-width="0.9"/><path d="M5 279.5L11.39 278.18L17.78 276.64L24.17 274.9L30.56 272.99L36.94 270.94L43.33 268.79L49.72 266.55L56.11 264.27L56.11 267.21L62.5 264.92L68.89 262.64L75.28 260.4L81.67 258.25L88.06 256.2L94.44 254.3L100.83 252.59L100.83 256.36L107.22 254.86L113.61 253.62L120 252.71" stroke="#a6bed7" stroke-width="0.9"/><path d="M5 279.5L12.5 278.53L20 277.33L27.5 275.95L35 274.4L42.5 272.72L50 270.93L57.5 269.07L65 267.16L72.5 265.23L72.5 268.65L80 266.73L87.5 264.84L95 263.03L102.5 261.32L110 259.74L110 262.24L117.5 260.82L125 259.6L132.5 258.61L140 257.91" stroke="#96c7e4" stroke-width="0.9"/><path d="M5 279.5L10.83 278.95L16.67 278.26L22.5 277.43L28.33 276.5L34.17 275.47L40 274.36L45.83 273.2L51.67 272L57.5 270.78L63.33 269.55L69.17 268.34L75 267.17L75 269.39L80.83 268.27L80.83 271.1L86.67 270.06L92.5 269.11L98.33 268.27L104.17 267.57L110 267.05" stroke="#8ccdec" stroke-width="0.9"/><path d="M5 279.5L14.72 278.24L24.44 276.68L34.17 274.86L43.89 272.83L53.61 270.62L63.33 268.27L73.06 265.82L82.78 263.32L92.5 260.79L92.5 263.13L102.22 260.62L111.94 258.17L121.67 255.83L131.39 253.63L141.11 251.61L141.11 255.38L150.83 253.59L160.56 252.08L170.28 250.89L180 250.1" stroke="#9bc4e0" stroke-width="0.9"/><path d="M5 279.5L13.06 277.94L21.11 276.1L29.17 274.02L37.22 271.73L45.28 269.28L53.33 266.69L61.39 264.02L69.44 261.29L69.44 264.45L77.5 261.71L85.56 258.99L93.61 256.33L101.67 253.79L109.72 251.38L117.78 249.17L125.83 247.19L133.89 245.49L141.94 244.12L141.94 247.33L150 246.38" stroke="#a4bfd9" stroke-width="0.9"/><path d="M5 279.5L10.28 277.26L15.56 274.79L20.83 272.12L26.11 269.28L31.39 266.31L36.67 263.24L41.94 260.11L47.22 256.94L52.5 253.79L57.78 250.67L63.06 247.64L63.06 250.76L68.33 247.83L73.61 245.07L78.89 242.49L84.17 240.15L89.44 238.1L89.44 240.58L94.72 238.86L100 237.6" stroke="#b0b8ce" stroke-width="0.9"/><path d="M5 279.5L11.94 276.6L18.89 273.46L25.83 270.11L32.78 266.59L39.72 262.94L46.67 259.21L53.61 255.42L60.56 251.63L67.5 247.87L74.44 244.19L74.44 247.79L81.39 244.23L88.33 240.82L95.28 237.62L102.22 234.67L102.22 236.96L109.17 234.32L116.11 232.04L123.06 230.19L130 228.9" stroke="#b4b5cb" stroke-width="0.9"/><path d="M5 279.5L9.72 278.64L14.44 277.6L19.17 276.41L23.89 275.08L28.61 273.64L33.33 272.1L38.06 270.5L42.78 268.86L47.5 267.18L52.22 265.51L56.94 263.86L56.94 265.86L61.67 264.26L66.39 262.72L71.11 261.28L71.11 265.44L75.83 264.12L80.56 262.94L85.28 261.94L90 261.16" stroke="#92cae7" stroke-width="0.9"/><path d="M5 279.5L16.11 278.72L27.22 277.72L38.33 276.53L49.44 275.17L60.56 273.66L71.67 272.05L82.78 270.36L93.89 268.62L105 266.86L116.11 265.1L127.22 263.38L138.33 261.73L138.33 266.22L149.44 264.67L160.56 263.24L171.67 261.98L182.78 260.9L193.89 260.06L193.89 262.11L205 261.54" stroke="#92cae7" stroke-width="0.9"/><path d="M253.9 256.2L259.4 252" stroke="#d3a3ae" stroke-width="1.1"/><path d="M235.4 268.6L242.4 266.6" stroke="#a1c1dc" stroke-width="1.1"/><path d="M218.7 271.4L228.5 268" stroke="#b3b6cc" stroke-width="1.1"/><path d="M199.2 275.7L203.4 271.4" stroke="#cba8b6" stroke-width="1.1"/><path d="M210.4 272.2L214.5 272.4" stroke="#9ac5e1" stroke-width="1.1"/><path d="M211.7 263.8L221.5 257.6" stroke="#adbad1" stroke-width="1.1"/><path d="M195 259L202 256" stroke="#c2adbe" stroke-width="1.1"/><path d="M202 113L209 110" stroke="#93c9e6" stroke-width="1.1"/><path d="M4.9 278.3C7.42 277.5 14.87 275.9 20 273.5C25.13 271.1 27.97 269.95 35.7 263.9C43.43 257.85 56.15 247.45 66.4 237.2C76.65 226.95 85.92 216.07 97.2 202.4C108.48 188.73 123.17 167.85 134.1 155.2C145.03 142.55 153.75 135.72 162.8 126.5C171.85 117.28 184.13 104.33 188.4 99.9" stroke="#c23b50" stroke-width="2.8"/><path d="M4.9 278.3C7.42 277.5 14.87 275.9 20 273.5C25.13 271.1 27.97 269.95 35.7 263.9C43.43 257.85 59.02 244.18 66.4 237.2C73.78 230.22 77.73 224.53 80 222" stroke="#c23b50" stroke-width="5.199999999999999"/><path d="M198.7 114.2L202 115.5L206.9 112.2" stroke="#c23b50" stroke-width="2.8"/><rect x="13.9" y="38.7" width="11.3" height="82.9" fill="url(#cb_b)" stroke="none"/><rect x="13.9" y="56.55" width="14.5" height="3.7" fill="#c23b50" stroke="none"/><text x="35" y="65.6" font-family="'Liberation Sans', Arial, Helvetica, sans-serif" font-size="25" fill="#000" stroke="none">50%</text><text x="18.9" y="29.5" font-family="'Liberation Serif', 'Times New Roman', serif" font-style="italic" font-size="25" fill="#000" stroke="none">ρ</text><rect x="20.6" y="11.5" width="12" height="1.5" fill="#000" stroke="none"/></g><rect x="1185.6" y="358.8" width="281.3" height="281.4" fill="none" stroke="#231f20" stroke-width="3.3"/>
<rect x="893.2" y="205.9" width="617.8" height="463" fill="none" stroke="#000" stroke-width="1.8"/><path d="M992.9 668.9v-15M992.9 205.9v15M1092.6 668.9v-15M1092.6 205.9v15M1192.3 668.9v-15M1192.3 205.9v15M1292 668.9v-15M1292 205.9v15M1391.7 668.9v-15M1391.7 205.9v15M1491.4 668.9v-15M1491.4 205.9v15M893.2 625h15M1511 625h-15M893.2 581.1h15M1511 581.1h-15M893.2 537.2h15M1511 537.2h-15M893.2 493.3h15M1511 493.3h-15M893.2 449.4h15M1511 449.4h-15M893.2 405.5h15M1511 405.5h-15M893.2 361.6h15M1511 361.6h-15M893.2 317.7h15M1511 317.7h-15M893.2 273.8h15M1511 273.8h-15M893.2 229.9h15M1511 229.9h-15" stroke="#000" stroke-width="1.8" fill="none"/><g font-family="'Liberation Sans', Arial, Helvetica, sans-serif" font-size="29.4" fill="#000"><text x="894.8" y="701.5" text-anchor="middle">0</text><text x="994.5" y="701.5" text-anchor="middle">0.05</text><text x="1094.2" y="701.5" text-anchor="middle">0.1</text><text x="1193.9" y="701.5" text-anchor="middle">0.15</text><text x="1293.6" y="701.5" text-anchor="middle">0.2</text><text x="1393.3" y="701.5" text-anchor="middle">0.25</text><text x="1493" y="701.5" text-anchor="middle">0.3</text><text x="880" y="679" text-anchor="end">0</text><text x="880" y="635.1" text-anchor="end">0.2</text><text x="880" y="591.2" text-anchor="end">0.4</text><text x="880" y="547.3" text-anchor="end">0.6</text><text x="880" y="503.4" text-anchor="end">0.8</text><text x="880" y="459.5" text-anchor="end">1</text><text x="880" y="415.6" text-anchor="end">1.2</text><text x="880" y="371.7" text-anchor="end">1.4</text><text x="880" y="327.8" text-anchor="end">1.6</text><text x="880" y="283.9" text-anchor="end">1.8</text><text x="880" y="240" text-anchor="end">2</text></g><text x="1045.3" y="748.6" font-family="'Liberation Sans', Arial, Helvetica, sans-serif" font-size="29.4">Engineering strain, <tspan font-family="'Liberation Serif', 'Times New Roman', serif" font-style="italic">ε</tspan> (–)</text><text transform="translate(813.4 444) rotate(-90)" text-anchor="middle" font-family="'Liberation Sans', Arial, Helvetica, sans-serif" font-size="29.4">Engineering stress, <tspan font-family="'Liberation Serif', 'Times New Roman', serif" font-style="italic">σ</tspan> (GPa)</text>
<path d="M108.2 1474.35L110.68 1474.7L113.16 1474.93L115.64 1475.04L118.12 1475.02L120.61 1474.88L123.09 1474.62L125.57 1474.24L128.05 1473.74L130.53 1473.13L133.01 1472.41L135.49 1471.57L137.97 1470.62L140.45 1469.56L142.93 1468.39L145.42 1467.12L147.9 1465.74L150.38 1464.26L152.86 1462.67L155.34 1460.98L157.82 1459.2L160.3 1457.31L162.78 1455.33L165.26 1453.26L167.74 1451.09L170.23 1448.82L172.71 1446.47L175.19 1444.03L177.67 1441.5L180.15 1438.88L182.63 1436.18L185.11 1433.39L187.59 1430.52L190.07 1427.58L192.55 1424.55L195.04 1421.44L197.52 1418.26L200 1415L202.48 1411.67L204.96 1408.27L207.44 1404.8L209.92 1401.26L212.4 1397.65L214.88 1393.97L217.36 1390.23L219.85 1386.43L222.33 1382.57L224.81 1378.66L227.29 1374.71L229.77 1370.7L232.25 1366.66L234.73 1362.58L237.21 1358.46L239.69 1354.31L242.17 1350.14L244.66 1345.94L247.14 1341.73L249.62 1337.49L252.1 1333.25L254.58 1329L257.06 1324.74L259.54 1320.48L262.02 1316.23L264.5 1311.98L266.98 1307.74L269.47 1303.52L271.95 1299.31L274.43 1295.13L276.91 1290.97L279.39 1286.84L281.87 1282.74L284.35 1278.68L286.83 1274.66L289.31 1270.68L291.79 1266.74L294.28 1262.86L296.76 1259.04L299.24 1255.27L301.72 1251.57L304.2 1247.93" fill="none" stroke="#737399" stroke-width="3.6" stroke-linecap="round" stroke-linejoin="round"/><path d="M108.2 1475.45L111.09 1475.65L113.98 1475.83L116.87 1475.99L119.76 1476.12L122.65 1476.22L125.53 1476.26L128.42 1476.25L131.31 1476.17L134.2 1476.02L137.09 1475.78L139.98 1475.46L142.87 1475.03L145.76 1474.5L148.65 1473.85L151.54 1473.08L154.43 1472.17L157.31 1471.12L160.2 1469.92L163.09 1468.55L165.98 1467.02L168.87 1465.32L171.76 1463.42L174.65 1461.34L177.54 1459.05L180.43 1456.54L183.32 1453.82L186.21 1450.87L189.09 1447.68L191.98 1444.26L194.87 1440.61L197.76 1436.75L200.65 1432.7L203.54 1428.48L206.43 1424.09L209.32 1419.56L212.21 1414.89L215.1 1410.12L217.98 1405.24L220.87 1400.28L223.76 1395.25L226.65 1390.17L229.54 1385.05L232.43 1379.9L235.32 1374.76L238.21 1369.62L241.1 1364.48L243.99 1359.36L246.88 1354.24L249.76 1349.11L252.65 1343.97L255.54 1338.82L258.43 1333.65L261.32 1328.45L264.21 1323.23L267.1 1317.97L269.99 1312.68L272.88 1307.34L275.77 1301.96L278.66 1296.52L281.54 1291.03L284.43 1285.47L287.32 1279.88L290.21 1274.26L293.1 1268.62L295.99 1262.99L298.88 1257.37L301.77 1251.79L304.66 1246.25L307.55 1240.77L310.44 1235.38L313.32 1230.07L316.21 1224.88L319.1 1219.79L321.99 1214.81L324.88 1209.93L327.77 1205.15L330.66 1200.46L333.55 1195.86L336.44 1191.34L339.33 1186.91L342.22 1182.55L345.1 1178.27L347.99 1174.05L350.88 1169.9L353.77 1165.82L356.66 1161.79L359.55 1157.81L362.44 1153.88L365.33 1150L368.22 1146.16L371.11 1142.35L373.99 1138.58L376.88 1134.84L379.77 1131.12L382.66 1127.43L385.55 1123.75L388.44 1120.08L391.33 1116.43L394.22 1112.78L397.11 1109.13L400 1105.48L402.89 1101.82L405.77 1098.15L408.66 1094.46L411.55 1090.76L414.44 1087.03L417.33 1083.28L420.22 1079.49L423.11 1075.67L426 1071.81L428.89 1067.91L431.78 1063.96L434.67 1059.97L437.55 1055.91L440.44 1051.8L443.33 1047.62L446.22 1043.38L449.11 1039.07L452 1034.68" fill="none" stroke="#737399" stroke-width="4.2" stroke-linecap="round" stroke-linejoin="round"/><path d="M108.2 1475.8L110.68 1475.52L113.16 1475.31L115.64 1475.16L118.12 1475.05L120.61 1474.97L123.09 1474.93L125.57 1474.9L128.05 1474.87L130.53 1474.84L133.01 1474.79L135.49 1474.72L137.97 1474.61L140.45 1474.46L142.93 1474.24L145.42 1473.97L147.9 1473.61L150.38 1473.17L152.86 1472.63L155.34 1471.98L157.82 1471.22L160.3 1470.32L162.78 1469.29L165.26 1468.11L167.74 1466.77L170.23 1465.26L172.71 1463.57L175.19 1461.69L177.67 1459.64L180.15 1457.4L182.63 1455L185.11 1452.43L187.59 1449.7L190.07 1446.81L192.55 1443.77L195.04 1440.59L197.52 1437.27L200 1433.81L202.48 1430.23L204.96 1426.51L207.44 1422.68L209.92 1418.74L212.4 1414.69L214.88 1410.53L217.36 1406.28L219.85 1401.93L222.33 1397.5L224.81 1393L227.29 1388.47L229.77 1383.93L232.25 1379.41L234.73 1374.94L237.21 1370.54L239.69 1366.22L242.17 1361.94L244.66 1357.66L247.14 1353.37L249.62 1349.01L252.1 1344.57L254.58 1340.08L257.06 1335.54L259.54 1330.99L262.02 1326.45L264.5 1321.93L266.98 1317.45L269.47 1313.01L271.95 1308.61L274.43 1304.22L276.91 1299.83L279.39 1295.44L281.87 1291.03L284.35 1286.58L286.83 1282.09L289.31 1277.55L291.79 1272.93L294.28 1268.23L296.76 1263.44L299.24 1258.57L301.72 1253.62L304.2 1248.61" fill="none" stroke="#737399" stroke-width="5.0" stroke-linecap="round" stroke-linejoin="round"/><path d="M525 1476.2C530.83 1476.08 548.22 1475.87 560 1475.5C571.78 1475.13 585.78 1474.93 595.7 1474C605.62 1473.07 611.57 1471.88 619.5 1469.9C627.43 1467.92 636.35 1464.78 643.3 1462.1C650.25 1459.42 655.25 1456.97 661.2 1453.8C667.15 1450.63 673.05 1446.97 679 1443.1C684.95 1439.23 693.92 1432.68 696.9 1430.6" fill="none" stroke="#737399" stroke-width="3.4" stroke-linecap="round" stroke-linejoin="round"/>
<rect x="400.3" y="1166.5" width="281.3" height="281.4" fill="#fff"/><g transform="translate(400.3 1166.5)" fill="none" stroke-linecap="round" stroke-linejoin="round"><path d="M5.04 279.4C6.67 275.8 10.99 266.26 14.8 257.8C18.62 249.35 22.63 239.65 27.95 228.69C33.27 217.73 39.85 203.8 46.74 192.06C53.62 180.32 60.51 171.34 69.27 158.25C78.04 145.17 89.31 125.45 99.33 113.55C109.35 101.66 118.11 97.12 129.38 86.88C140.65 76.64 155.68 62.46 166.95 52.13C178.22 41.8 191.36 29.87 197 24.9C202.63 19.92 198.09 24.21 200.75 22.27C203.42 20.33 210.93 14.75 212.96 13.25" stroke="#f28c8f" stroke-width="1.3"/><path d="M5.04 279.4C7.6 275.18 15.37 262.34 20.44 254.05C25.51 245.75 30.14 239.02 35.47 229.63C40.79 220.24 44.54 209.91 52.37 197.7C60.2 185.49 71.15 170.15 82.42 156.38C93.69 142.6 106.84 128.2 119.99 115.05C133.14 101.91 150.35 86.88 161.31 77.49C172.27 68.1 177.28 64.34 185.73 58.71C194.18 53.07 207.64 46.18 212.02 43.68" stroke="#ef8e92" stroke-width="1.3"/><path d="M5.04 279.4C9.17 274.24 21.63 259.21 29.83 248.41C38.03 237.61 45.48 226.5 54.25 214.6C63.01 202.71 73.03 188.62 82.42 177.04C91.81 165.45 102.77 154.5 110.6 145.11C118.42 135.71 125.31 126.32 129.38 120.69C133.45 115.05 131.88 115.05 135.01 111.3C138.15 107.54 144.09 102.22 148.16 98.15C152.23 94.08 156.93 89.38 159.43 86.88C161.94 84.38 162.09 84.38 163.19 83.12C164.28 81.87 165.54 79.99 166.01 79.37" stroke="#ed9094" stroke-width="1.2"/><path d="M5.04 279.4C10.11 273.93 24.76 258.9 35.47 246.53C46.17 234.17 58.32 217.73 69.27 205.21C80.23 192.69 91.19 181.11 101.21 171.4C111.22 161.7 119.99 154.97 129.38 146.98C138.77 139 148.16 131.18 157.55 123.51C166.95 115.84 179.62 106.07 185.73 100.97C191.83 95.86 192.77 94.24 194.18 92.89" stroke="#e7949a" stroke-width="1.2"/><path d="M5.04 279.4C11.05 273.3 29.14 255.77 41.1 242.78C53.06 229.79 65.21 213.04 76.79 201.45C88.37 189.87 100.58 181.73 110.6 173.28C120.61 164.83 130.63 155.12 136.89 150.74C143.15 146.36 144.72 149.18 148.16 146.98C151.61 144.79 155.05 140.72 157.55 137.59C160.06 134.46 161 131.02 163.19 128.2C165.38 125.38 168.2 123.51 170.7 120.69C173.21 117.87 175.71 114.11 178.22 111.3C180.72 108.48 184.01 105.51 185.73 103.78C187.45 102.06 188.08 101.44 188.55 100.97" stroke="#e2989f" stroke-width="1.2"/><path d="M5.04 279.4C11.99 272.99 33.84 252.64 46.74 240.9C59.63 229.16 71.15 218.36 82.42 208.97C93.69 199.58 104.02 192.38 114.35 184.55C124.68 176.72 134.7 169.05 144.41 162.01C154.11 154.97 167.88 145.58 172.58 142.29" stroke="#df9aa2" stroke-width="1.2"/><path d="M5.04 279.4C6.98 275.18 12.24 263.28 16.68 254.05C21.13 244.81 26.86 234.01 31.71 223.99C36.56 213.98 43.45 198.95 45.8 193.94" stroke="#f08d91" stroke-width="1.1"/><path d="M5.04 279.4C7.29 275.18 13.8 263.44 18.56 254.05C23.32 244.66 28.64 233.32 33.59 223.06C38.53 212.79 45.8 197.54 48.24 192.44" stroke="#f08d91" stroke-width="1.1"/><path d="M5.04 279.4C7.6 275.18 15.37 263.59 20.44 254.05C25.51 244.5 30.46 232.57 35.47 222.12C40.47 211.66 47.99 196.45 50.49 191.31" stroke="#f08d91" stroke-width="1.1"/><path d="M5.04 279.4C7.13 275.49 13.02 264.53 17.62 255.93C22.22 247.32 27.73 237.39 32.65 227.75C37.56 218.11 44.7 203.02 47.11 198.07" stroke="#ef8e92" stroke-width="1.1"/><path d="M5.04 279.4C6.82 275.96 11.61 266.73 15.74 258.74C19.88 250.76 25.04 241.06 29.83 231.51C34.62 221.96 42.04 206.46 44.48 201.45" stroke="#ef8e92" stroke-width="1.1"/><path d="M5.04 279.4C7.92 275.49 16.62 263.91 22.32 255.93C28.02 247.94 33.9 239.33 39.22 231.51C44.54 223.68 50.02 212.98 54.25 208.97C58.47 204.96 62.86 207.72 64.58 207.47" stroke="#ee8f93" stroke-width="1.1"/><path d="M5.04 279.4C8.23 275.8 17.56 265.16 24.2 257.8C30.83 250.45 37.97 243.09 44.86 235.26C51.74 227.44 62.07 214.92 65.52 210.85" stroke="#eb9196" stroke-width="1.1"/><path d="M5.04 279.4C10.11 275.18 26.32 262.03 35.47 254.05C44.61 246.06 52.06 239.02 59.88 231.51C67.71 223.99 76.32 213.82 82.42 208.97C88.53 204.12 94.16 203.49 96.51 202.39" stroke="#e99398" stroke-width="1.1"/><path d="M5 279.5L11.62 272.13L18.24 264.72L24.87 257.32L31.49 249.96L38.11 242.67L44.73 235.51L51.36 228.5L57.98 221.7L64.6 215.14L71.22 208.88L77.84 202.95L84.47 197.42L91.09 192.32L97.71 187.73L104.33 183.72L110.96 180.37L117.58 177.81L124.2 176.3" stroke="#d2a4af" stroke-width="0.9"/><path d="M5 279.5L12.94 273.38L20.88 267.14L28.82 260.82L36.76 254.46L44.69 248.12L52.63 241.82L60.57 235.63L68.51 229.57L76.45 223.71L84.39 218.09L92.33 212.75L100.27 207.75L108.21 203.15L116.14 199.01L124.08 195.4L132.02 192.4L139.96 190.12L147.9 188.8" stroke="#cca7b4" stroke-width="0.9"/><path d="M5 279.5L12.59 273.63L20.18 267.66L27.77 261.64L35.36 255.6L42.94 249.57L50.53 243.6L58.12 237.72L65.71 231.98L73.3 226.41L80.89 221.05L88.48 215.96L96.07 211.17L103.66 206.73L111.24 202.7L118.83 199.15L126.42 196.14L134.01 193.78L141.6 192.3" stroke="#c8a9b8" stroke-width="0.9"/><path d="M5 279.5L13.32 274.4L21.64 269.12L29.97 263.72L38.29 258.22L46.61 252.68L54.93 247.14L63.26 241.65L71.58 236.25L79.9 230.99L88.22 225.93L96.54 221.1L104.87 216.57L113.19 212.38L121.51 208.6L129.83 205.3L129.83 209.44L138.16 206.69L138.16 210.64L146.48 208.54L154.8 207.3" stroke="#c4acbc" stroke-width="0.9"/><path d="M5 279.5L13.13 274.81L21.26 269.96L29.38 265.01L37.51 259.97L45.64 254.91L53.77 249.84L61.89 244.82L70.02 239.89L78.15 235.08L86.28 230.43L94.41 226L102.53 221.83L110.66 217.97L118.79 214.46L126.92 211.38L126.92 215.51L135.04 212.91L135.04 215.39L143.17 213.37L151.3 212.11" stroke="#c1adbf" stroke-width="0.9"/><path d="M5 279.5L13.63 275.42L22.27 271.14L30.9 266.68L39.53 262.1L48.17 257.44L56.8 252.74L65.43 248.05L74.07 243.41L82.7 238.87L91.33 234.48L99.97 230.28L108.6 226.31L117.23 222.65L125.87 219.33L134.5 216.42L134.5 219.99L143.13 217.56L143.13 221.55L151.77 219.68L160.4 218.56" stroke="#bbb1c4" stroke-width="0.9"/><path d="M5 279.5L14.71 275.92L24.42 272.08L34.13 268.01L43.84 263.78L53.56 259.42L63.27 254.99L72.98 250.53L82.69 246.1L92.4 241.75L92.4 244.51L102.11 240.28L111.82 236.24L121.53 232.42L131.24 228.9L140.96 225.72L150.67 222.95L150.67 225.18L160.38 222.89L170.09 221.18L179.8 220.19" stroke="#b7b3c8" stroke-width="0.9"/><path d="M5 279.5L13.71 276.36L22.41 273L31.12 269.47L39.82 265.81L48.53 262.05L57.23 258.22L65.94 254.38L74.64 250.55L74.64 254.96L83.35 251.19L92.06 247.52L100.76 243.99L109.47 240.64L118.17 237.51L126.88 234.66L126.88 238.3L135.58 235.77L144.29 233.63L152.99 231.94L161.7 230.85" stroke="#b5b4ca" stroke-width="0.9"/><path d="M5 279.5L13.98 276.84L22.96 273.94L31.93 270.83L40.91 267.57L49.89 264.19L58.87 260.72L67.84 257.21L76.82 253.69L85.8 250.21L94.78 246.8L94.78 250.36L103.76 247.07L112.73 243.94L121.71 241.01L130.69 238.33L139.67 235.95L148.64 233.93L157.62 232.32L157.62 236.4L166.6 235.34" stroke="#b2b6cc" stroke-width="0.9"/><path d="M5 279.5L10.94 272.76L16.89 266.08L22.83 259.47L28.78 252.98L34.72 246.61L40.67 240.41L46.61 234.38L52.56 228.56L58.5 222.98L64.44 217.67L70.39 212.66L76.33 207.99L82.28 203.69L88.22 199.81L94.17 196.41L100.11 193.55L106.06 191.33L112 190" stroke="#cfa5b2" stroke-width="0.9"/><path d="M5 279.5L11.28 273.21L17.56 266.98L23.83 260.82L30.11 254.76L36.39 248.82L42.67 243.03L48.94 237.4L55.22 231.98L61.5 226.77L67.78 221.82L74.06 217.14L80.33 212.78L86.61 208.77L92.89 205.16L99.17 201.98L105.44 199.31L111.72 197.24L118 196" stroke="#cba8b6" stroke-width="0.9"/><path d="M5 279.5L10.61 273.51L16.22 267.58L21.83 261.71L27.44 255.94L33.06 250.29L38.67 244.77L44.28 239.42L49.89 234.25L55.5 229.3L61.11 224.58L66.72 220.13L72.33 215.98L77.94 212.16L83.56 208.72L89.17 205.69L94.78 203.15L100.39 201.18L106 200" stroke="#c6aaba" stroke-width="0.9"/><path d="M5 279.5L11.94 274.11L18.89 268.71L25.83 263.31L32.78 257.94L39.72 252.64L46.67 247.43L53.61 242.33L60.56 237.38L60.56 239.47L67.5 234.7L67.5 238.9L74.44 234.33L81.39 230.01L88.33 225.96L95.28 222.23L102.22 218.86L109.17 215.89L116.11 213.4L123.06 211.46L130 210.29" stroke="#c2adbe" stroke-width="0.9"/><path d="M5 279.5L14.09 277.4L23.19 275.07L32.28 272.53L41.38 269.82L50.47 266.98L59.57 264.04L68.66 261.04L77.76 258.03L77.76 261.97L86.85 258.97L95.94 256.02L105.04 253.15L114.13 250.42L123.23 247.86L132.32 245.51L141.42 243.42L150.51 241.63L159.61 240.21L159.61 243.02L168.7 242.06" stroke="#acbad2" stroke-width="0.9"/><path d="M5 279.5L15.02 277.63L25.03 275.49L35.05 273.1L45.07 270.51L55.08 267.77L65.1 264.9L75.12 261.96L85.13 258.98L95.15 256L105.17 253.07L115.18 250.23L115.18 253.53L125.2 250.82L135.22 248.28L145.23 245.97L155.25 243.93L165.27 242.2L175.28 240.86L175.28 244.46L185.3 243.6" stroke="#a8bdd6" stroke-width="0.9"/><path d="M5 279.5L16.41 278.05L27.82 276.31L39.23 274.34L50.64 272.15L62.06 269.81L73.47 267.34L84.88 264.79L96.29 262.19L96.29 265.85L107.7 263.24L119.11 260.68L130.52 258.19L141.93 255.82L153.34 253.62L164.76 251.62L176.17 249.87L176.17 253.01L187.58 251.56L198.99 250.46L210.4 249.8" stroke="#a2c1db" stroke-width="0.9"/><path d="M5 279.5L16.64 278.47L28.28 277.2L39.92 275.72L51.56 274.07L63.19 272.27L74.83 270.36L86.47 268.37L98.11 266.33L109.75 264.27L121.39 262.23L133.03 260.24L144.67 258.33L144.67 262.82L156.31 261.03L167.94 259.39L167.94 263.88L179.58 262.42L191.22 261.19L202.86 260.22L214.5 259.58" stroke="#9dc3de" stroke-width="0.9"/><path d="M5 279.5L15.37 278.53L25.73 277.33L36.1 275.95L46.47 274.4L56.83 272.72L67.2 270.93L77.57 269.07L87.93 267.16L98.3 265.23L98.3 268.02L108.67 266.1L119.03 264.22L129.4 262.41L129.4 264.98L139.77 263.27L150.13 261.69L160.5 260.27L170.87 259.05L181.23 258.06L191.6 257.36" stroke="#99c6e2" stroke-width="0.9"/><path d="M5 279.5L13.94 278.84L22.88 278L31.82 277L40.76 275.86L49.69 274.62L58.63 273.28L67.57 271.87L76.51 270.41L76.51 272.59L85.45 271.11L94.39 269.62L103.33 268.16L112.27 266.74L112.27 270.65L121.21 269.3L130.14 268.03L139.08 266.88L148.02 265.87L156.96 265.03L165.9 264.39" stroke="#94c8e5" stroke-width="0.9"/><path d="M5 279.5L15.79 278.94L26.58 278.23L37.37 277.38L48.16 276.42L58.94 275.35L69.73 274.21L80.52 273.01L91.31 271.78L102.1 270.52L102.1 274.64L112.89 273.38L123.68 272.15L134.47 270.96L145.26 269.83L156.04 268.79L156.04 271.76L166.83 270.82L177.62 270.01L188.41 269.35L199.2 268.88" stroke="#8fcbe9" stroke-width="0.9"/><path d="M5 279.5L19.18 278.86L33.37 278.05L47.55 277.08L61.73 275.97L75.92 274.74L90.1 273.4L104.28 271.96L118.47 270.45L118.47 272.98L132.65 271.41L146.83 269.8L161.02 268.15L175.2 266.49L189.38 264.84L203.57 263.22L217.75 261.63L231.93 260.1L246.12 258.66L246.12 262.98L260.3 261.65" stroke="#a0c2dd" stroke-width="0.9"/><path d="M5 279.5L11.39 278.18L17.78 276.64L24.17 274.9L30.56 272.99L36.94 270.94L43.33 268.79L49.72 266.55L56.11 264.27L56.11 267.21L62.5 264.92L68.89 262.64L75.28 260.4L81.67 258.25L88.06 256.2L94.44 254.3L100.83 252.59L100.83 256.36L107.22 254.86L113.61 253.62L120 252.71" stroke="#a6bed7" stroke-width="0.9"/><path d="M5 279.5L12.5 278.53L20 277.33L27.5 275.95L35 274.4L42.5 272.72L50 270.93L57.5 269.07L65 267.16L72.5 265.23L72.5 268.65L80 266.73L87.5 264.84L95 263.03L102.5 261.32L110 259.74L110 262.24L117.5 260.82L125 259.6L132.5 258.61L140 257.91" stroke="#96c7e4" stroke-width="0.9"/><path d="M5 279.5L10.83 278.95L16.67 278.26L22.5 277.43L28.33 276.5L34.17 275.47L40 274.36L45.83 273.2L51.67 272L57.5 270.78L63.33 269.55L69.17 268.34L75 267.17L75 269.39L80.83 268.27L80.83 271.1L86.67 270.06L92.5 269.11L98.33 268.27L104.17 267.57L110 267.05" stroke="#8ccdec" stroke-width="0.9"/><path d="M5 279.5L14.72 278.24L24.44 276.68L34.17 274.86L43.89 272.83L53.61 270.62L63.33 268.27L73.06 265.82L82.78 263.32L92.5 260.79L92.5 263.13L102.22 260.62L111.94 258.17L121.67 255.83L131.39 253.63L141.11 251.61L141.11 255.38L150.83 253.59L160.56 252.08L170.28 250.89L180 250.1" stroke="#9bc4e0" stroke-width="0.9"/><path d="M5 279.5L13.06 277.94L21.11 276.1L29.17 274.02L37.22 271.73L45.28 269.28L53.33 266.69L61.39 264.02L69.44 261.29L69.44 264.45L77.5 261.71L85.56 258.99L93.61 256.33L101.67 253.79L109.72 251.38L117.78 249.17L125.83 247.19L133.89 245.49L141.94 244.12L141.94 247.33L150 246.38" stroke="#a4bfd9" stroke-width="0.9"/><path d="M5 279.5L10.28 277.26L15.56 274.79L20.83 272.12L26.11 269.28L31.39 266.31L36.67 263.24L41.94 260.11L47.22 256.94L52.5 253.79L57.78 250.67L63.06 247.64L63.06 250.76L68.33 247.83L73.61 245.07L78.89 242.49L84.17 240.15L89.44 238.1L89.44 240.58L94.72 238.86L100 237.6" stroke="#b0b8ce" stroke-width="0.9"/><path d="M5 279.5L11.94 276.6L18.89 273.46L25.83 270.11L32.78 266.59L39.72 262.94L46.67 259.21L53.61 255.42L60.56 251.63L67.5 247.87L74.44 244.19L74.44 247.79L81.39 244.23L88.33 240.82L95.28 237.62L102.22 234.67L102.22 236.96L109.17 234.32L116.11 232.04L123.06 230.19L130 228.9" stroke="#b4b5cb" stroke-width="0.9"/><path d="M5 279.5L9.72 278.64L14.44 277.6L19.17 276.41L23.89 275.08L28.61 273.64L33.33 272.1L38.06 270.5L42.78 268.86L47.5 267.18L52.22 265.51L56.94 263.86L56.94 265.86L61.67 264.26L66.39 262.72L71.11 261.28L71.11 265.44L75.83 264.12L80.56 262.94L85.28 261.94L90 261.16" stroke="#92cae7" stroke-width="0.9"/><path d="M5 279.5L16.11 278.72L27.22 277.72L38.33 276.53L49.44 275.17L60.56 273.66L71.67 272.05L82.78 270.36L93.89 268.62L105 266.86L116.11 265.1L127.22 263.38L138.33 261.73L138.33 266.22L149.44 264.67L160.56 263.24L171.67 261.98L182.78 260.9L193.89 260.06L193.89 262.11L205 261.54" stroke="#92cae7" stroke-width="0.9"/><path d="M253.9 256.2L259.4 252" stroke="#d3a3ae" stroke-width="1.1"/><path d="M235.4 268.6L242.4 266.6" stroke="#a1c1dc" stroke-width="1.1"/><path d="M218.7 271.4L228.5 268" stroke="#b3b6cc" stroke-width="1.1"/><path d="M199.2 275.7L203.4 271.4" stroke="#cba8b6" stroke-width="1.1"/><path d="M210.4 272.2L214.5 272.4" stroke="#9ac5e1" stroke-width="1.1"/><path d="M211.7 263.8L221.5 257.6" stroke="#adbad1" stroke-width="1.1"/><path d="M195 259L202 256" stroke="#c2adbe" stroke-width="1.1"/><path d="M202 113L209 110" stroke="#93c9e6" stroke-width="1.1"/><path d="M5 279.4C5.75 279.37 5.43 280.73 9.5 279.2C13.57 277.67 22.78 274.67 29.4 270.2C36.02 265.73 40.93 259.67 49.2 252.4C57.47 245.13 69.08 234.53 79 226.6C88.92 218.67 99.62 211.08 108.7 204.8C117.78 198.52 129.37 191.55 133.5 188.9" stroke="#6e6e96" stroke-width="2.4"/><path d="M220.9 274.2L229.8 271.2" stroke="#6e6e96" stroke-width="2.4"/><rect x="13.9" y="38.7" width="11.3" height="82.9" fill="url(#cb_c)" stroke="none"/><rect x="13.9" y="89.05" width="14.5" height="3.7" fill="#6e6e96" stroke="none"/><text x="39.2" y="98.1" font-family="'Liberation Sans', Arial, Helvetica, sans-serif" font-size="25" fill="#000" stroke="none">37.5%</text><text x="18.9" y="29.5" font-family="'Liberation Serif', 'Times New Roman', serif" font-style="italic" font-size="25" fill="#000" stroke="none">ρ</text><rect x="20.6" y="11.5" width="12" height="1.5" fill="#000" stroke="none"/></g><rect x="400.3" y="1166.5" width="281.3" height="281.4" fill="none" stroke="#231f20" stroke-width="3.3"/>
<rect x="108.3" y="1013.6" width="617.7" height="463.1" fill="none" stroke="#000" stroke-width="1.8"/><path d="M252.5 1476.7v-15M252.5 1013.6v15M396.7 1476.7v-15M396.7 1013.6v15M540.9 1476.7v-15M540.9 1013.6v15M685.1 1476.7v-15M685.1 1013.6v15M108.3 1433.9h15M726 1433.9h-15M108.3 1391.1h15M726 1391.1h-15M108.3 1348.3h15M726 1348.3h-15M108.3 1305.5h15M726 1305.5h-15M108.3 1262.7h15M726 1262.7h-15M108.3 1219.9h15M726 1219.9h-15M108.3 1177.1h15M726 1177.1h-15M108.3 1134.3h15M726 1134.3h-15M108.3 1091.5h15M726 1091.5h-15M108.3 1048.7h15M726 1048.7h-15" stroke="#000" stroke-width="1.8" fill="none"/><g font-family="'Liberation Sans', Arial, Helvetica, sans-serif" font-size="29.4" fill="#000"><text x="108.8" y="1511.5" text-anchor="middle">0</text><text x="253" y="1511.5" text-anchor="middle">0.05</text><text x="397.2" y="1511.5" text-anchor="middle">0.1</text><text x="541.4" y="1511.5" text-anchor="middle">0.15</text><text x="685.6" y="1511.5" text-anchor="middle">0.2</text><text x="95.5" y="1484.6" text-anchor="end">0</text><text x="95.5" y="1441.8" text-anchor="end">0.1</text><text x="95.5" y="1399" text-anchor="end">0.2</text><text x="95.5" y="1356.2" text-anchor="end">0.3</text><text x="95.5" y="1313.4" text-anchor="end">0.4</text><text x="95.5" y="1270.6" text-anchor="end">0.5</text><text x="95.5" y="1227.8" text-anchor="end">0.6</text><text x="95.5" y="1185" text-anchor="end">0.7</text><text x="95.5" y="1142.2" text-anchor="end">0.8</text><text x="95.5" y="1099.4" text-anchor="end">0.9</text><text x="95.5" y="1056.6" text-anchor="end">1</text></g><text x="259.8" y="1556.4" font-family="'Liberation Sans', Arial, Helvetica, sans-serif" font-size="29.4">Engineering strain, <tspan font-family="'Liberation Serif', 'Times New Roman', serif" font-style="italic">ε</tspan> (–)</text><text transform="translate(25 1251.75) rotate(-90)" text-anchor="middle" font-family="'Liberation Sans', Arial, Helvetica, sans-serif" font-size="29.4">Engineering stress, <tspan font-family="'Liberation Serif', 'Times New Roman', serif" font-style="italic">σ</tspan> (GPa)</text>
<path d="M893 1476.6H1360" fill="none" stroke="#1eaee6" stroke-width="1.8" stroke-linecap="round" stroke-linejoin="round" opacity="0.8"/><path d="M892 1475.7C894.77 1475.3 902.65 1475.55 908.6 1473.3C914.55 1471.05 920.55 1466.95 927.7 1462.2C934.85 1457.45 944.37 1450.88 951.5 1444.8C958.63 1438.72 964.15 1432.85 970.5 1425.7C976.85 1418.55 982.98 1410.63 989.6 1401.9C996.22 1393.17 1005.7 1379.12 1010.2 1373.3C1014.7 1367.48 1013.15 1371.23 1016.6 1367C1020.05 1362.77 1026.15 1354.52 1030.9 1347.9C1035.65 1341.28 1039.82 1334.7 1045.1 1327.3C1050.38 1319.9 1057.83 1310.52 1062.6 1303.5C1067.37 1296.48 1071.32 1288.38 1073.7 1285.2C1076.08 1282.02 1073.47 1289.28 1076.9 1284.4C1080.33 1279.52 1091.4 1260.65 1094.3 1255.9" fill="none" stroke="#1eaee6" stroke-width="2.8" stroke-linecap="round" stroke-linejoin="round"/><path d="M1094.3 1255.9L1098.3 1263.8L1102.3 1259L1116.6 1240" fill="none" stroke="#1eaee6" stroke-width="2.8" stroke-linecap="round" stroke-linejoin="round"/><path d="M932.8 1475.7C936.77 1473.72 949.18 1468.7 956.6 1463.8C964.02 1458.9 970.68 1452.92 977.3 1446.3C983.92 1439.68 989.95 1432.03 996.3 1424.1C1002.65 1416.17 1009.58 1406.63 1015.4 1398.7C1021.22 1390.77 1025.92 1384.43 1031.2 1376.5C1036.48 1368.57 1041.8 1360.1 1047.1 1351.1C1052.4 1342.1 1057.7 1331.75 1063 1322.5C1068.3 1313.25 1073.62 1304.85 1078.9 1295.6C1084.18 1286.35 1089.42 1275.73 1094.7 1267C1099.98 1258.27 1106.85 1249.37 1110.6 1243.2C1114.35 1237.03 1116.1 1232.2 1117.2 1230" fill="none" stroke="#1eaee6" stroke-width="2.2" stroke-linecap="round" stroke-linejoin="round"/><path d="M935.6 1475.7C939.57 1473.72 951.98 1468.7 959.4 1463.8C966.82 1458.9 973.48 1452.92 980.1 1446.3C986.72 1439.68 992.75 1432.03 999.1 1424.1C1005.45 1416.17 1012.38 1406.63 1018.2 1398.7C1024.02 1390.77 1028.72 1384.43 1034 1376.5C1039.28 1368.57 1044.6 1360.1 1049.9 1351.1C1055.2 1342.1 1060.5 1331.75 1065.8 1322.5C1071.1 1313.25 1076.42 1304.85 1081.7 1295.6C1086.98 1286.35 1092.22 1275.73 1097.5 1267C1102.78 1258.27 1109.65 1249.37 1113.4 1243.2C1117.15 1237.03 1118.9 1232.2 1120 1230" fill="none" stroke="#1eaee6" stroke-width="2.2" stroke-linecap="round" stroke-linejoin="round"/><path d="M938.4 1475.7C942.37 1473.72 954.78 1468.7 962.2 1463.8C969.62 1458.9 976.28 1452.92 982.9 1446.3C989.52 1439.68 995.55 1432.03 1001.9 1424.1C1008.25 1416.17 1015.18 1406.63 1021 1398.7C1026.82 1390.77 1031.52 1384.43 1036.8 1376.5C1042.08 1368.57 1047.4 1360.1 1052.7 1351.1C1058 1342.1 1063.3 1331.75 1068.6 1322.5C1073.9 1313.25 1079.22 1304.85 1084.5 1295.6C1089.78 1286.35 1095.02 1275.73 1100.3 1267C1105.58 1258.27 1112.45 1249.37 1116.2 1243.2C1119.95 1237.03 1121.7 1232.2 1122.8 1230" fill="none" stroke="#1eaee6" stroke-width="2.2" stroke-linecap="round" stroke-linejoin="round"/><path d="M1118.4 1228.1C1120.33 1224.42 1126.07 1213.18 1130 1206C1133.93 1198.82 1137.78 1192.07 1142 1185C1146.22 1177.93 1151.47 1169.1 1155.3 1163.6C1159.13 1158.1 1163.38 1153.93 1165 1152" fill="none" stroke="#1eaee6" stroke-width="2.8" stroke-linecap="round" stroke-linejoin="round"/><path d="M1165 1152L1169.1 1148.2L1172 1155L1174.5 1153.5L1189 1135.9L1198 1130L1201.3 1128.2L1204.4 1131.3L1220 1112L1238.2 1089.9L1260 1067.5L1266.7 1060.8L1284.3 1043.8L1286.7 1042.5L1289.2 1047.5" fill="none" stroke="#1eaee6" stroke-width="2.8" stroke-linecap="round" stroke-linejoin="round"/><path d="M1291.7 1080L1296 1078L1310 1060L1321.7 1049.2L1335 1035L1338.3 1040" fill="none" stroke="#1eaee6" stroke-width="3.0" stroke-linecap="round" stroke-linejoin="round"/><path d="M1339.7 1130.8L1360 1107L1378 1085L1380 1095L1385 1091L1388.3 1090.8L1390 1095.8L1400 1086.7" fill="none" stroke="#1eaee6" stroke-width="3.0" stroke-linecap="round" stroke-linejoin="round"/><circle cx="1288.7" cy="1055.8" r="1.5" fill="none" stroke="#1eaee6" stroke-width="0.9"/><circle cx="1289.2" cy="1060" r="1.5" fill="none" stroke="#1eaee6" stroke-width="0.9"/><circle cx="1290.8" cy="1067" r="1.5" fill="none" stroke="#1eaee6" stroke-width="0.9"/><circle cx="1339.5" cy="1105.5" r="1.5" fill="none" stroke="#1eaee6" stroke-width="0.9"/><circle cx="1400.8" cy="1091.2" r="1.5" fill="none" stroke="#1eaee6" stroke-width="0.9"/><circle cx="1400.8" cy="1098.3" r="1.5" fill="none" stroke="#1eaee6" stroke-width="0.9"/><path d="M1250 1476.5C1258.33 1476.17 1286.67 1475.33 1300 1474.5C1313.33 1473.67 1319.83 1473.42 1330 1471.5C1340.17 1469.58 1350.67 1466.75 1361 1463C1371.33 1459.25 1380.5 1456.17 1392 1449C1403.5 1441.83 1417.53 1431.92 1430 1420C1442.47 1408.08 1458.22 1388.33 1466.8 1377.5C1475.38 1366.67 1479.05 1358.75 1481.5 1355" fill="none" stroke="#1eaee6" stroke-width="3.0" stroke-linecap="round" stroke-linejoin="round"/>
<rect x="1185.1" y="1166.4" width="281.2" height="281.4" fill="#fff"/><g transform="translate(1185.1 1166.4)" fill="none" stroke-linecap="round" stroke-linejoin="round"><path d="M5.04 279.4C6.67 275.8 10.99 266.26 14.8 257.8C18.62 249.35 22.63 239.65 27.95 228.69C33.27 217.73 39.85 203.8 46.74 192.06C53.62 180.32 60.51 171.34 69.27 158.25C78.04 145.17 89.31 125.45 99.33 113.55C109.35 101.66 118.11 97.12 129.38 86.88C140.65 76.64 155.68 62.46 166.95 52.13C178.22 41.8 191.36 29.87 197 24.9C202.63 19.92 198.09 24.21 200.75 22.27C203.42 20.33 210.93 14.75 212.96 13.25" stroke="#f28c8f" stroke-width="1.3"/><path d="M5.04 279.4C7.6 275.18 15.37 262.34 20.44 254.05C25.51 245.75 30.14 239.02 35.47 229.63C40.79 220.24 44.54 209.91 52.37 197.7C60.2 185.49 71.15 170.15 82.42 156.38C93.69 142.6 106.84 128.2 119.99 115.05C133.14 101.91 150.35 86.88 161.31 77.49C172.27 68.1 177.28 64.34 185.73 58.71C194.18 53.07 207.64 46.18 212.02 43.68" stroke="#ef8e92" stroke-width="1.3"/><path d="M5.04 279.4C9.17 274.24 21.63 259.21 29.83 248.41C38.03 237.61 45.48 226.5 54.25 214.6C63.01 202.71 73.03 188.62 82.42 177.04C91.81 165.45 102.77 154.5 110.6 145.11C118.42 135.71 125.31 126.32 129.38 120.69C133.45 115.05 131.88 115.05 135.01 111.3C138.15 107.54 144.09 102.22 148.16 98.15C152.23 94.08 156.93 89.38 159.43 86.88C161.94 84.38 162.09 84.38 163.19 83.12C164.28 81.87 165.54 79.99 166.01 79.37" stroke="#ed9094" stroke-width="1.2"/><path d="M5.04 279.4C10.11 273.93 24.76 258.9 35.47 246.53C46.17 234.17 58.32 217.73 69.27 205.21C80.23 192.69 91.19 181.11 101.21 171.4C111.22 161.7 119.99 154.97 129.38 146.98C138.77 139 148.16 131.18 157.55 123.51C166.95 115.84 179.62 106.07 185.73 100.97C191.83 95.86 192.77 94.24 194.18 92.89" stroke="#e7949a" stroke-width="1.2"/><path d="M5.04 279.4C11.05 273.3 29.14 255.77 41.1 242.78C53.06 229.79 65.21 213.04 76.79 201.45C88.37 189.87 100.58 181.73 110.6 173.28C120.61 164.83 130.63 155.12 136.89 150.74C143.15 146.36 144.72 149.18 148.16 146.98C151.61 144.79 155.05 140.72 157.55 137.59C160.06 134.46 161 131.02 163.19 128.2C165.38 125.38 168.2 123.51 170.7 120.69C173.21 117.87 175.71 114.11 178.22 111.3C180.72 108.48 184.01 105.51 185.73 103.78C187.45 102.06 188.08 101.44 188.55 100.97" stroke="#e2989f" stroke-width="1.2"/><path d="M5.04 279.4C11.99 272.99 33.84 252.64 46.74 240.9C59.63 229.16 71.15 218.36 82.42 208.97C93.69 199.58 104.02 192.38 114.35 184.55C124.68 176.72 134.7 169.05 144.41 162.01C154.11 154.97 167.88 145.58 172.58 142.29" stroke="#df9aa2" stroke-width="1.2"/><path d="M5.04 279.4C6.98 275.18 12.24 263.28 16.68 254.05C21.13 244.81 26.86 234.01 31.71 223.99C36.56 213.98 43.45 198.95 45.8 193.94" stroke="#f08d91" stroke-width="1.1"/><path d="M5.04 279.4C7.29 275.18 13.8 263.44 18.56 254.05C23.32 244.66 28.64 233.32 33.59 223.06C38.53 212.79 45.8 197.54 48.24 192.44" stroke="#f08d91" stroke-width="1.1"/><path d="M5.04 279.4C7.6 275.18 15.37 263.59 20.44 254.05C25.51 244.5 30.46 232.57 35.47 222.12C40.47 211.66 47.99 196.45 50.49 191.31" stroke="#f08d91" stroke-width="1.1"/><path d="M5.04 279.4C7.13 275.49 13.02 264.53 17.62 255.93C22.22 247.32 27.73 237.39 32.65 227.75C37.56 218.11 44.7 203.02 47.11 198.07" stroke="#ef8e92" stroke-width="1.1"/><path d="M5.04 279.4C6.82 275.96 11.61 266.73 15.74 258.74C19.88 250.76 25.04 241.06 29.83 231.51C34.62 221.96 42.04 206.46 44.48 201.45" stroke="#ef8e92" stroke-width="1.1"/><path d="M5.04 279.4C7.92 275.49 16.62 263.91 22.32 255.93C28.02 247.94 33.9 239.33 39.22 231.51C44.54 223.68 50.02 212.98 54.25 208.97C58.47 204.96 62.86 207.72 64.58 207.47" stroke="#ee8f93" stroke-width="1.1"/><path d="M5.04 279.4C8.23 275.8 17.56 265.16 24.2 257.8C30.83 250.45 37.97 243.09 44.86 235.26C51.74 227.44 62.07 214.92 65.52 210.85" stroke="#eb9196" stroke-width="1.1"/><path d="M5.04 279.4C10.11 275.18 26.32 262.03 35.47 254.05C44.61 246.06 52.06 239.02 59.88 231.51C67.71 223.99 76.32 213.82 82.42 208.97C88.53 204.12 94.16 203.49 96.51 202.39" stroke="#e99398" stroke-width="1.1"/><path d="M5 279.5L11.62 272.13L18.24 264.72L24.87 257.32L31.49 249.96L38.11 242.67L44.73 235.51L51.36 228.5L57.98 221.7L64.6 215.14L71.22 208.88L77.84 202.95L84.47 197.42L91.09 192.32L97.71 187.73L104.33 183.72L110.96 180.37L117.58 177.81L124.2 176.3" stroke="#d2a4af" stroke-width="0.9"/><path d="M5 279.5L12.94 273.38L20.88 267.14L28.82 260.82L36.76 254.46L44.69 248.12L52.63 241.82L60.57 235.63L68.51 229.57L76.45 223.71L84.39 218.09L92.33 212.75L100.27 207.75L108.21 203.15L116.14 199.01L124.08 195.4L132.02 192.4L139.96 190.12L147.9 188.8" stroke="#cca7b4" stroke-width="0.9"/><path d="M5 279.5L12.59 273.63L20.18 267.66L27.77 261.64L35.36 255.6L42.94 249.57L50.53 243.6L58.12 237.72L65.71 231.98L73.3 226.41L80.89 221.05L88.48 215.96L96.07 211.17L103.66 206.73L111.24 202.7L118.83 199.15L126.42 196.14L134.01 193.78L141.6 192.3" stroke="#c8a9b8" stroke-width="0.9"/><path d="M5 279.5L13.32 274.4L21.64 269.12L29.97 263.72L38.29 258.22L46.61 252.68L54.93 247.14L63.26 241.65L71.58 236.25L79.9 230.99L88.22 225.93L96.54 221.1L104.87 216.57L113.19 212.38L121.51 208.6L129.83 205.3L129.83 209.44L138.16 206.69L138.16 210.64L146.48 208.54L154.8 207.3" stroke="#c4acbc" stroke-width="0.9"/><path d="M5 279.5L13.13 274.81L21.26 269.96L29.38 265.01L37.51 259.97L45.64 254.91L53.77 249.84L61.89 244.82L70.02 239.89L78.15 235.08L86.28 230.43L94.41 226L102.53 221.83L110.66 217.97L118.79 214.46L126.92 211.38L126.92 215.51L135.04 212.91L135.04 215.39L143.17 213.37L151.3 212.11" stroke="#c1adbf" stroke-width="0.9"/><path d="M5 279.5L13.63 275.42L22.27 271.14L30.9 266.68L39.53 262.1L48.17 257.44L56.8 252.74L65.43 248.05L74.07 243.41L82.7 238.87L91.33 234.48L99.97 230.28L108.6 226.31L117.23 222.65L125.87 219.33L134.5 216.42L134.5 219.99L143.13 217.56L143.13 221.55L151.77 219.68L160.4 218.56" stroke="#bbb1c4" stroke-width="0.9"/><path d="M5 279.5L14.71 275.92L24.42 272.08L34.13 268.01L43.84 263.78L53.56 259.42L63.27 254.99L72.98 250.53L82.69 246.1L92.4 241.75L92.4 244.51L102.11 240.28L111.82 236.24L121.53 232.42L131.24 228.9L140.96 225.72L150.67 222.95L150.67 225.18L160.38 222.89L170.09 221.18L179.8 220.19" stroke="#b7b3c8" stroke-width="0.9"/><path d="M5 279.5L13.71 276.36L22.41 273L31.12 269.47L39.82 265.81L48.53 262.05L57.23 258.22L65.94 254.38L74.64 250.55L74.64 254.96L83.35 251.19L92.06 247.52L100.76 243.99L109.47 240.64L118.17 237.51L126.88 234.66L126.88 238.3L135.58 235.77L144.29 233.63L152.99 231.94L161.7 230.85" stroke="#b5b4ca" stroke-width="0.9"/><path d="M5 279.5L13.98 276.84L22.96 273.94L31.93 270.83L40.91 267.57L49.89 264.19L58.87 260.72L67.84 257.21L76.82 253.69L85.8 250.21L94.78 246.8L94.78 250.36L103.76 247.07L112.73 243.94L121.71 241.01L130.69 238.33L139.67 235.95L148.64 233.93L157.62 232.32L157.62 236.4L166.6 235.34" stroke="#b2b6cc" stroke-width="0.9"/><path d="M5 279.5L10.94 272.76L16.89 266.08L22.83 259.47L28.78 252.98L34.72 246.61L40.67 240.41L46.61 234.38L52.56 228.56L58.5 222.98L64.44 217.67L70.39 212.66L76.33 207.99L82.28 203.69L88.22 199.81L94.17 196.41L100.11 193.55L106.06 191.33L112 190" stroke="#cfa5b2" stroke-width="0.9"/><path d="M5 279.5L11.28 273.21L17.56 266.98L23.83 260.82L30.11 254.76L36.39 248.82L42.67 243.03L48.94 237.4L55.22 231.98L61.5 226.77L67.78 221.82L74.06 217.14L80.33 212.78L86.61 208.77L92.89 205.16L99.17 201.98L105.44 199.31L111.72 197.24L118 196" stroke="#cba8b6" stroke-width="0.9"/><path d="M5 279.5L10.61 273.51L16.22 267.58L21.83 261.71L27.44 255.94L33.06 250.29L38.67 244.77L44.28 239.42L49.89 234.25L55.5 229.3L61.11 224.58L66.72 220.13L72.33 215.98L77.94 212.16L83.56 208.72L89.17 205.69L94.78 203.15L100.39 201.18L106 200" stroke="#c6aaba" stroke-width="0.9"/><path d="M5 279.5L11.94 274.11L18.89 268.71L25.83 263.31L32.78 257.94L39.72 252.64L46.67 247.43L53.61 242.33L60.56 237.38L60.56 239.47L67.5 234.7L67.5 238.9L74.44 234.33L81.39 230.01L88.33 225.96L95.28 222.23L102.22 218.86L109.17 215.89L116.11 213.4L123.06 211.46L130 210.29" stroke="#c2adbe" stroke-width="0.9"/><path d="M5 279.5L14.09 277.4L23.19 275.07L32.28 272.53L41.38 269.82L50.47 266.98L59.57 264.04L68.66 261.04L77.76 258.03L77.76 261.97L86.85 258.97L95.94 256.02L105.04 253.15L114.13 250.42L123.23 247.86L132.32 245.51L141.42 243.42L150.51 241.63L159.61 240.21L159.61 243.02L168.7 242.06" stroke="#acbad2" stroke-width="0.9"/><path d="M5 279.5L15.02 277.63L25.03 275.49L35.05 273.1L45.07 270.51L55.08 267.77L65.1 264.9L75.12 261.96L85.13 258.98L95.15 256L105.17 253.07L115.18 250.23L115.18 253.53L125.2 250.82L135.22 248.28L145.23 245.97L155.25 243.93L165.27 242.2L175.28 240.86L175.28 244.46L185.3 243.6" stroke="#a8bdd6" stroke-width="0.9"/><path d="M5 279.5L16.41 278.05L27.82 276.31L39.23 274.34L50.64 272.15L62.06 269.81L73.47 267.34L84.88 264.79L96.29 262.19L96.29 265.85L107.7 263.24L119.11 260.68L130.52 258.19L141.93 255.82L153.34 253.62L164.76 251.62L176.17 249.87L176.17 253.01L187.58 251.56L198.99 250.46L210.4 249.8" stroke="#a2c1db" stroke-width="0.9"/><path d="M5 279.5L16.64 278.47L28.28 277.2L39.92 275.72L51.56 274.07L63.19 272.27L74.83 270.36L86.47 268.37L98.11 266.33L109.75 264.27L121.39 262.23L133.03 260.24L144.67 258.33L144.67 262.82L156.31 261.03L167.94 259.39L167.94 263.88L179.58 262.42L191.22 261.19L202.86 260.22L214.5 259.58" stroke="#9dc3de" stroke-width="0.9"/><path d="M5 279.5L15.37 278.53L25.73 277.33L36.1 275.95L46.47 274.4L56.83 272.72L67.2 270.93L77.57 269.07L87.93 267.16L98.3 265.23L98.3 268.02L108.67 266.1L119.03 264.22L129.4 262.41L129.4 264.98L139.77 263.27L150.13 261.69L160.5 260.27L170.87 259.05L181.23 258.06L191.6 257.36" stroke="#99c6e2" stroke-width="0.9"/><path d="M5 279.5L13.94 278.84L22.88 278L31.82 277L40.76 275.86L49.69 274.62L58.63 273.28L67.57 271.87L76.51 270.41L76.51 272.59L85.45 271.11L94.39 269.62L103.33 268.16L112.27 266.74L112.27 270.65L121.21 269.3L130.14 268.03L139.08 266.88L148.02 265.87L156.96 265.03L165.9 264.39" stroke="#94c8e5" stroke-width="0.9"/><path d="M5 279.5L15.79 278.94L26.58 278.23L37.37 277.38L48.16 276.42L58.94 275.35L69.73 274.21L80.52 273.01L91.31 271.78L102.1 270.52L102.1 274.64L112.89 273.38L123.68 272.15L134.47 270.96L145.26 269.83L156.04 268.79L156.04 271.76L166.83 270.82L177.62 270.01L188.41 269.35L199.2 268.88" stroke="#8fcbe9" stroke-width="0.9"/><path d="M5 279.5L19.18 278.86L33.37 278.05L47.55 277.08L61.73 275.97L75.92 274.74L90.1 273.4L104.28 271.96L118.47 270.45L118.47 272.98L132.65 271.41L146.83 269.8L161.02 268.15L175.2 266.49L189.38 264.84L203.57 263.22L217.75 261.63L231.93 260.1L246.12 258.66L246.12 262.98L260.3 261.65" stroke="#a0c2dd" stroke-width="0.9"/><path d="M5 279.5L11.39 278.18L17.78 276.64L24.17 274.9L30.56 272.99L36.94 270.94L43.33 268.79L49.72 266.55L56.11 264.27L56.11 267.21L62.5 264.92L68.89 262.64L75.28 260.4L81.67 258.25L88.06 256.2L94.44 254.3L100.83 252.59L100.83 256.36L107.22 254.86L113.61 253.62L120 252.71" stroke="#a6bed7" stroke-width="0.9"/><path d="M5 279.5L12.5 278.53L20 277.33L27.5 275.95L35 274.4L42.5 272.72L50 270.93L57.5 269.07L65 267.16L72.5 265.23L72.5 268.65L80 266.73L87.5 264.84L95 263.03L102.5 261.32L110 259.74L110 262.24L117.5 260.82L125 259.6L132.5 258.61L140 257.91" stroke="#96c7e4" stroke-width="0.9"/><path d="M5 279.5L10.83 278.95L16.67 278.26L22.5 277.43L28.33 276.5L34.17 275.47L40 274.36L45.83 273.2L51.67 272L57.5 270.78L63.33 269.55L69.17 268.34L75 267.17L75 269.39L80.83 268.27L80.83 271.1L86.67 270.06L92.5 269.11L98.33 268.27L104.17 267.57L110 267.05" stroke="#8ccdec" stroke-width="0.9"/><path d="M5 279.5L14.72 278.24L24.44 276.68L34.17 274.86L43.89 272.83L53.61 270.62L63.33 268.27L73.06 265.82L82.78 263.32L92.5 260.79L92.5 263.13L102.22 260.62L111.94 258.17L121.67 255.83L131.39 253.63L141.11 251.61L141.11 255.38L150.83 253.59L160.56 252.08L170.28 250.89L180 250.1" stroke="#9bc4e0" stroke-width="0.9"/><path d="M5 279.5L13.06 277.94L21.11 276.1L29.17 274.02L37.22 271.73L45.28 269.28L53.33 266.69L61.39 264.02L69.44 261.29L69.44 264.45L77.5 261.71L85.56 258.99L93.61 256.33L101.67 253.79L109.72 251.38L117.78 249.17L125.83 247.19L133.89 245.49L141.94 244.12L141.94 247.33L150 246.38" stroke="#a4bfd9" stroke-width="0.9"/><path d="M5 279.5L10.28 277.26L15.56 274.79L20.83 272.12L26.11 269.28L31.39 266.31L36.67 263.24L41.94 260.11L47.22 256.94L52.5 253.79L57.78 250.67L63.06 247.64L63.06 250.76L68.33 247.83L73.61 245.07L78.89 242.49L84.17 240.15L89.44 238.1L89.44 240.58L94.72 238.86L100 237.6" stroke="#b0b8ce" stroke-width="0.9"/><path d="M5 279.5L11.94 276.6L18.89 273.46L25.83 270.11L32.78 266.59L39.72 262.94L46.67 259.21L53.61 255.42L60.56 251.63L67.5 247.87L74.44 244.19L74.44 247.79L81.39 244.23L88.33 240.82L95.28 237.62L102.22 234.67L102.22 236.96L109.17 234.32L116.11 232.04L123.06 230.19L130 228.9" stroke="#b4b5cb" stroke-width="0.9"/><path d="M5 279.5L9.72 278.64L14.44 277.6L19.17 276.41L23.89 275.08L28.61 273.64L33.33 272.1L38.06 270.5L42.78 268.86L47.5 267.18L52.22 265.51L56.94 263.86L56.94 265.86L61.67 264.26L66.39 262.72L71.11 261.28L71.11 265.44L75.83 264.12L80.56 262.94L85.28 261.94L90 261.16" stroke="#92cae7" stroke-width="0.9"/><path d="M5 279.5L16.11 278.72L27.22 277.72L38.33 276.53L49.44 275.17L60.56 273.66L71.67 272.05L82.78 270.36L93.89 268.62L105 266.86L116.11 265.1L127.22 263.38L138.33 261.73L138.33 266.22L149.44 264.67L160.56 263.24L171.67 261.98L182.78 260.9L193.89 260.06L193.89 262.11L205 261.54" stroke="#92cae7" stroke-width="0.9"/><path d="M253.9 256.2L259.4 252" stroke="#d3a3ae" stroke-width="1.1"/><path d="M235.4 268.6L242.4 266.6" stroke="#a1c1dc" stroke-width="1.1"/><path d="M218.7 271.4L228.5 268" stroke="#b3b6cc" stroke-width="1.1"/><path d="M199.2 275.7L203.4 271.4" stroke="#cba8b6" stroke-width="1.1"/><path d="M210.4 272.2L214.5 272.4" stroke="#9ac5e1" stroke-width="1.1"/><path d="M211.7 263.8L221.5 257.6" stroke="#adbad1" stroke-width="1.1"/><path d="M195 259L202 256" stroke="#c2adbe" stroke-width="1.1"/><path d="M202 113L209 110" stroke="#93c9e6" stroke-width="1.1"/><path d="M5 279.4C10.08 278.3 24.17 276.08 35.5 272.8C46.83 269.52 60.48 263.77 73 259.7C85.52 255.63 95.57 252 110.6 248.4C125.63 244.8 154.43 239.82 163.2 238.1" stroke="#16a9e5" stroke-width="2.6"/><path d="M163.2 238.1L164.1 241.8L183.9 237.1" stroke="#16a9e5" stroke-width="2.6"/><path d="M183.9 246.5L197 244.5L210.1 242.8" stroke="#16a9e5" stroke-width="2.6"/><path d="M236.4 270L241.1 268.7" stroke="#16a9e5" stroke-width="2.6"/><rect x="13.9" y="38.7" width="11.3" height="82.9" fill="url(#cb_d)" stroke="none"/><rect x="13.9" y="121.55" width="14.5" height="3.7" fill="#16a9e5" stroke="none"/><text x="39.3" y="130.6" font-family="'Liberation Sans', Arial, Helvetica, sans-serif" font-size="25" fill="#000" stroke="none">25%</text><text x="18.9" y="29.5" font-family="'Liberation Serif', 'Times New Roman', serif" font-style="italic" font-size="25" fill="#000" stroke="none">ρ</text><rect x="20.6" y="11.5" width="12" height="1.5" fill="#000" stroke="none"/></g><rect x="1185.1" y="1166.4" width="281.2" height="281.4" fill="none" stroke="#231f20" stroke-width="3.3"/>
<rect x="891.2" y="1014" width="617.5" height="463.4" fill="none" stroke="#000" stroke-width="1.8"/><path d="M1027.05 1477.4v-15M1027.05 1014v15M1162.9 1477.4v-15M1162.9 1014v15M1298.75 1477.4v-15M1298.75 1014v15M1434.6 1477.4v-15M1434.6 1014v15M891.2 1432.45h15M1508.7 1432.45h-15M891.2 1387.5h15M1508.7 1387.5h-15M891.2 1342.55h15M1508.7 1342.55h-15M891.2 1297.6h15M1508.7 1297.6h-15M891.2 1252.65h15M1508.7 1252.65h-15M891.2 1207.7h15M1508.7 1207.7h-15M891.2 1162.75h15M1508.7 1162.75h-15M891.2 1117.8h15M1508.7 1117.8h-15M891.2 1072.85h15M1508.7 1072.85h-15M891.2 1027.9h15M1508.7 1027.9h-15" stroke="#000" stroke-width="1.8" fill="none"/><g font-family="'Liberation Sans', Arial, Helvetica, sans-serif" font-size="29.4" fill="#000"><text x="892.7" y="1512.2" text-anchor="middle">0</text><text x="1028.55" y="1512.2" text-anchor="middle">0.05</text><text x="1164.4" y="1512.2" text-anchor="middle">0.1</text><text x="1300.25" y="1512.2" text-anchor="middle">0.15</text><text x="1436.1" y="1512.2" text-anchor="middle">0.2</text><text x="880.5" y="1484" text-anchor="end">0</text><text x="880.5" y="1439.05" text-anchor="end">0.05</text><text x="880.5" y="1394.1" text-anchor="end">0.1</text><text x="880.5" y="1349.15" text-anchor="end">0.15</text><text x="880.5" y="1304.2" text-anchor="end">0.2</text><text x="880.5" y="1259.25" text-anchor="end">0.25</text><text x="880.5" y="1214.3" text-anchor="end">0.3</text><text x="880.5" y="1169.35" text-anchor="end">0.35</text><text x="880.5" y="1124.4" text-anchor="end">0.4</text><text x="880.5" y="1079.45" text-anchor="end">0.45</text><text x="880.5" y="1034.5" text-anchor="end">0.5</text></g><text x="1044.9" y="1557.1" font-family="'Liberation Sans', Arial, Helvetica, sans-serif" font-size="29.4">Engineering strain, <tspan font-family="'Liberation Serif', 'Times New Roman', serif" font-style="italic">ε</tspan> (–)</text><text transform="translate(798 1252.3) rotate(-90)" text-anchor="middle" font-family="'Liberation Sans', Arial, Helvetica, sans-serif" font-size="29.4">Engineering stress, <tspan font-family="'Liberation Serif', 'Times New Roman', serif" font-style="italic">σ</tspan> (GPa)</text>
</svg>
</body></html>
